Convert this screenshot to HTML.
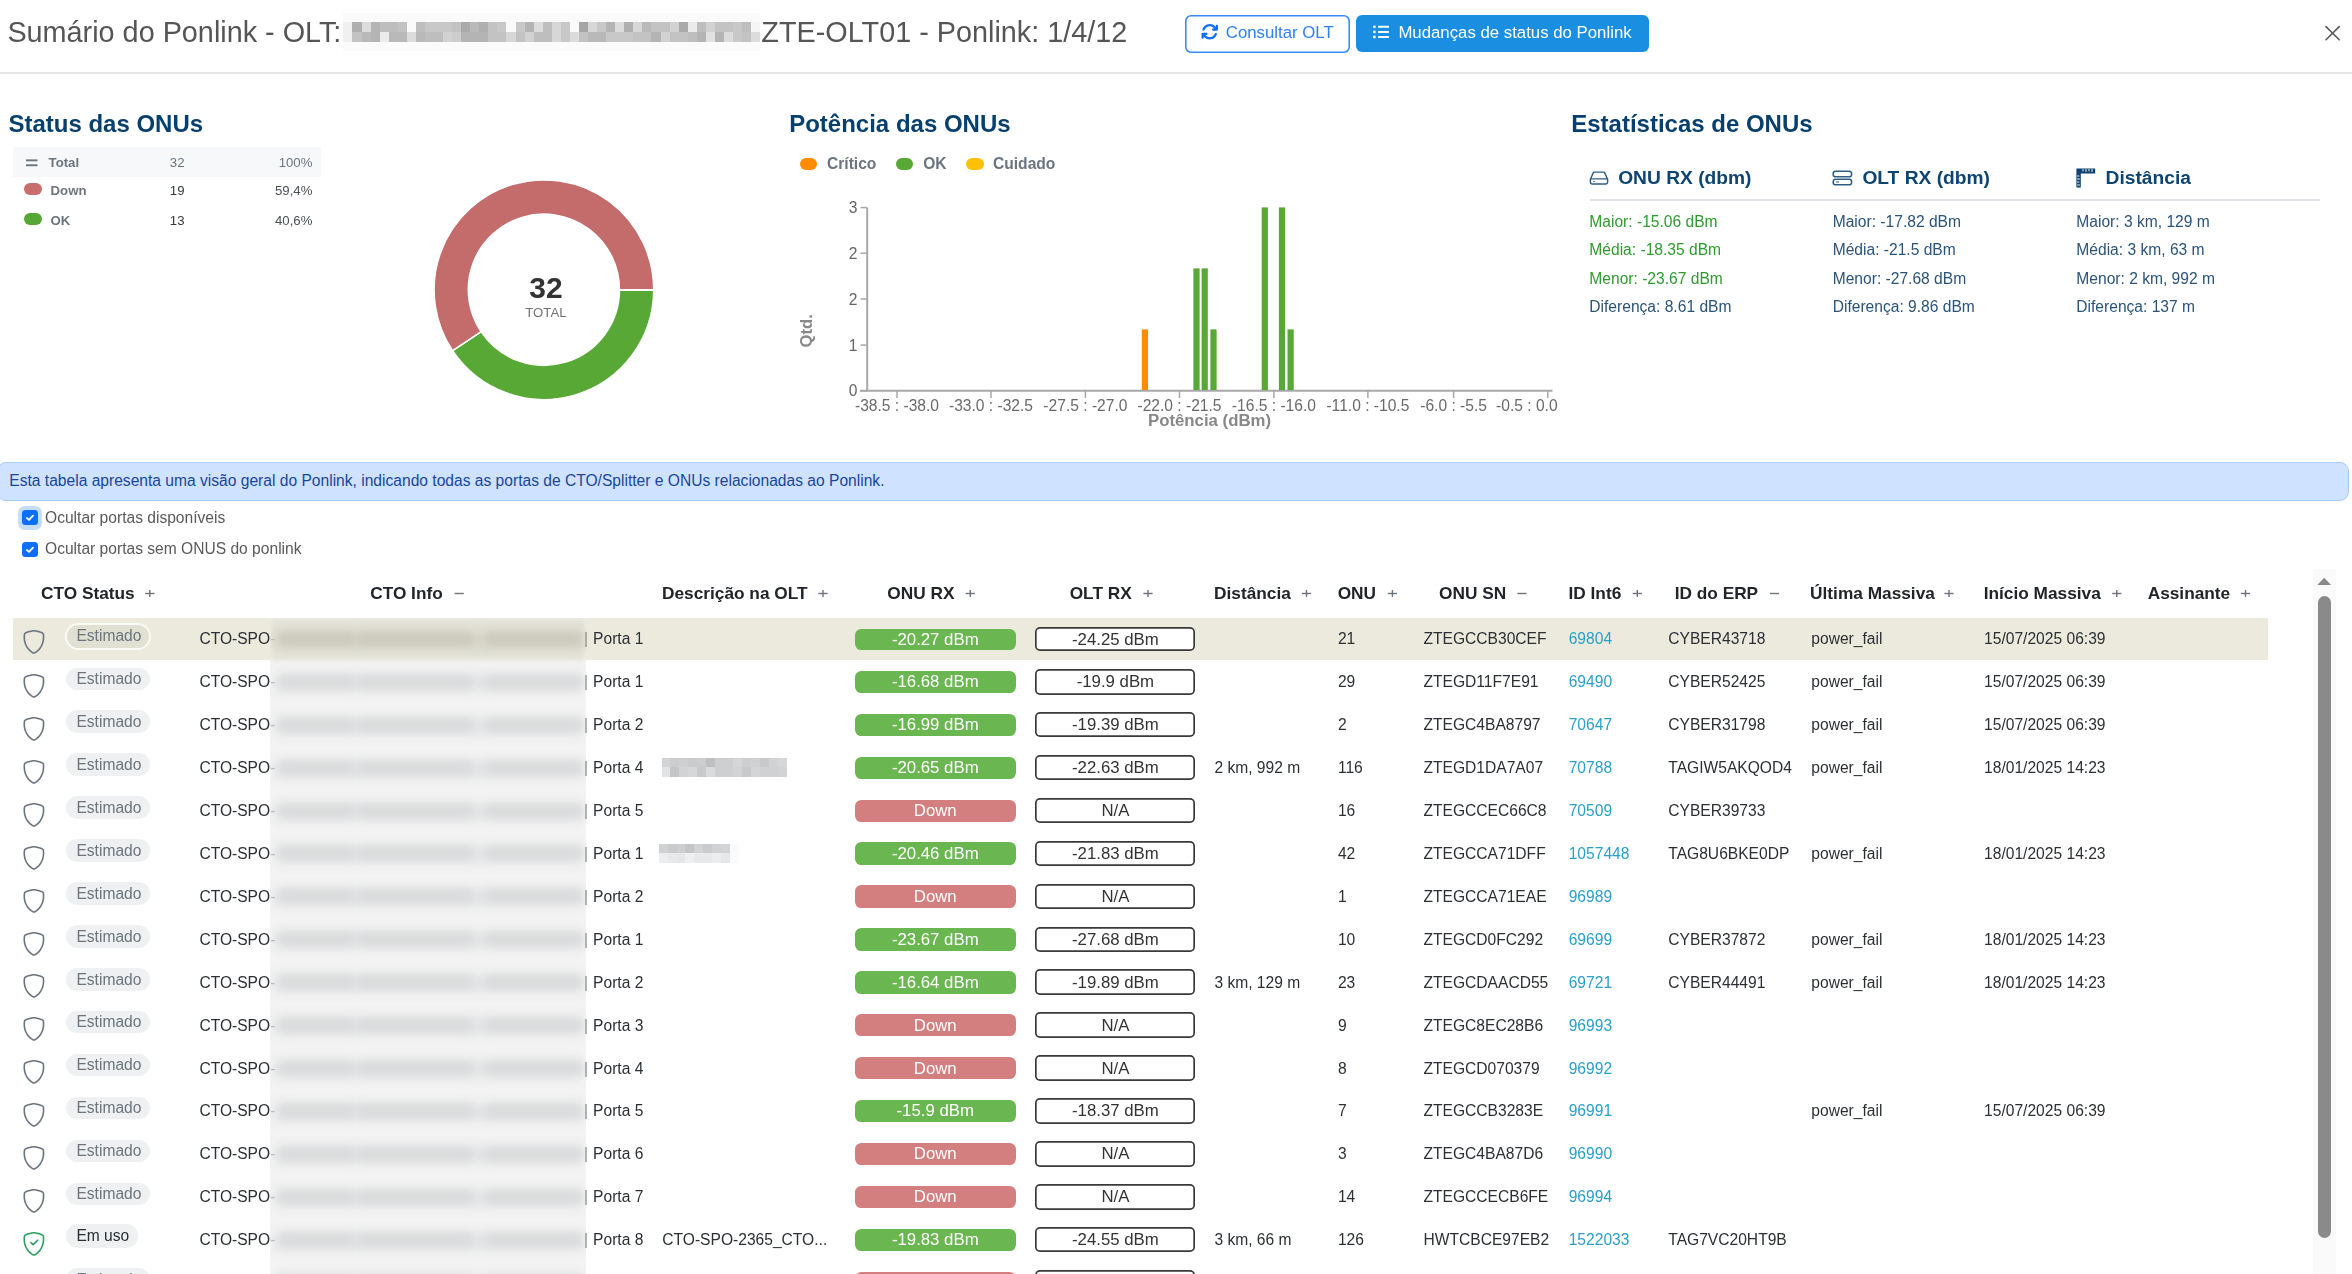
<!DOCTYPE html>
<html lang="pt-BR"><head><meta charset="utf-8"><title>Sumário do Ponlink</title>
<style>
*{box-sizing:border-box;margin:0;padding:0}
html,body{width:2352px;height:1274px;overflow:hidden;background:#fff;font-family:"Liberation Sans", sans-serif}
.t{position:absolute;white-space:nowrap}
.a{position:absolute}
svg{position:absolute;overflow:visible}
</style></head><body>
<div class="a" style="left:0;top:0;width:2352px;height:1274px;will-change:transform">
<div class="t" style="left:7.40px;top:18.00px;font-size:28.8px;line-height:28.8px;color:#555;font-weight:normal;">Sumário do Ponlink - OLT:</div>
<div class="a" style="left:343.40px;top:22.20px;width:9.36px;height:9.90px;background:rgb(240,240,240)"></div>
<div class="a" style="left:343.40px;top:32.00px;width:9.36px;height:9.80px;background:rgb(240,240,240)"></div>
<div class="a" style="left:343.40px;top:12.60px;width:9.36px;height:9.70px;background:#fafafa"></div>
<div class="a" style="left:343.40px;top:41.80px;width:9.36px;height:9.50px;background:#fbfbfb"></div>
<div class="a" style="left:352.46px;top:22.20px;width:9.36px;height:9.90px;background:rgb(175,175,175)"></div>
<div class="a" style="left:352.46px;top:32.00px;width:9.36px;height:9.80px;background:rgb(195,195,195)"></div>
<div class="a" style="left:352.46px;top:12.60px;width:9.36px;height:9.70px;background:#fafafa"></div>
<div class="a" style="left:352.46px;top:41.80px;width:9.36px;height:9.50px;background:#fbfbfb"></div>
<div class="a" style="left:361.52px;top:22.20px;width:9.36px;height:9.90px;background:rgb(220,220,220)"></div>
<div class="a" style="left:361.52px;top:32.00px;width:9.36px;height:9.80px;background:rgb(185,185,185)"></div>
<div class="a" style="left:361.52px;top:12.60px;width:9.36px;height:9.70px;background:#fafafa"></div>
<div class="a" style="left:361.52px;top:41.80px;width:9.36px;height:9.50px;background:#fbfbfb"></div>
<div class="a" style="left:370.58px;top:22.20px;width:9.36px;height:9.90px;background:rgb(180,180,180)"></div>
<div class="a" style="left:370.58px;top:32.00px;width:9.36px;height:9.80px;background:rgb(180,180,180)"></div>
<div class="a" style="left:370.58px;top:12.60px;width:9.36px;height:9.70px;background:#fafafa"></div>
<div class="a" style="left:370.58px;top:41.80px;width:9.36px;height:9.50px;background:#fbfbfb"></div>
<div class="a" style="left:379.64px;top:22.20px;width:9.36px;height:9.90px;background:rgb(190,190,190)"></div>
<div class="a" style="left:379.64px;top:32.00px;width:9.36px;height:9.80px;background:rgb(235,235,235)"></div>
<div class="a" style="left:379.64px;top:12.60px;width:9.36px;height:9.70px;background:#fafafa"></div>
<div class="a" style="left:379.64px;top:41.80px;width:9.36px;height:9.50px;background:#fbfbfb"></div>
<div class="a" style="left:388.70px;top:22.20px;width:9.36px;height:9.90px;background:rgb(190,190,190)"></div>
<div class="a" style="left:388.70px;top:32.00px;width:9.36px;height:9.80px;background:rgb(185,185,185)"></div>
<div class="a" style="left:388.70px;top:12.60px;width:9.36px;height:9.70px;background:#fafafa"></div>
<div class="a" style="left:388.70px;top:41.80px;width:9.36px;height:9.50px;background:#fbfbfb"></div>
<div class="a" style="left:397.76px;top:22.20px;width:9.36px;height:9.90px;background:rgb(195,195,195)"></div>
<div class="a" style="left:397.76px;top:32.00px;width:9.36px;height:9.80px;background:rgb(185,185,185)"></div>
<div class="a" style="left:397.76px;top:12.60px;width:9.36px;height:9.70px;background:#fafafa"></div>
<div class="a" style="left:397.76px;top:41.80px;width:9.36px;height:9.50px;background:#fbfbfb"></div>
<div class="a" style="left:406.82px;top:22.20px;width:9.36px;height:9.90px;background:rgb(250,250,250)"></div>
<div class="a" style="left:406.82px;top:32.00px;width:9.36px;height:9.80px;background:rgb(220,220,220)"></div>
<div class="a" style="left:406.82px;top:12.60px;width:9.36px;height:9.70px;background:#fafafa"></div>
<div class="a" style="left:406.82px;top:41.80px;width:9.36px;height:9.50px;background:#fbfbfb"></div>
<div class="a" style="left:415.88px;top:22.20px;width:9.36px;height:9.90px;background:rgb(190,190,190)"></div>
<div class="a" style="left:415.88px;top:32.00px;width:9.36px;height:9.80px;background:rgb(185,185,185)"></div>
<div class="a" style="left:415.88px;top:12.60px;width:9.36px;height:9.70px;background:#fafafa"></div>
<div class="a" style="left:415.88px;top:41.80px;width:9.36px;height:9.50px;background:#fbfbfb"></div>
<div class="a" style="left:424.94px;top:22.20px;width:9.36px;height:9.90px;background:rgb(200,200,200)"></div>
<div class="a" style="left:424.94px;top:32.00px;width:9.36px;height:9.80px;background:rgb(190,190,190)"></div>
<div class="a" style="left:424.94px;top:12.60px;width:9.36px;height:9.70px;background:#fafafa"></div>
<div class="a" style="left:424.94px;top:41.80px;width:9.36px;height:9.50px;background:#fbfbfb"></div>
<div class="a" style="left:434.00px;top:22.20px;width:9.36px;height:9.90px;background:rgb(200,200,200)"></div>
<div class="a" style="left:434.00px;top:32.00px;width:9.36px;height:9.80px;background:rgb(190,190,190)"></div>
<div class="a" style="left:434.00px;top:12.60px;width:9.36px;height:9.70px;background:#fafafa"></div>
<div class="a" style="left:434.00px;top:41.80px;width:9.36px;height:9.50px;background:#fbfbfb"></div>
<div class="a" style="left:443.06px;top:22.20px;width:9.36px;height:9.90px;background:rgb(200,200,200)"></div>
<div class="a" style="left:443.06px;top:32.00px;width:9.36px;height:9.80px;background:rgb(210,210,210)"></div>
<div class="a" style="left:443.06px;top:12.60px;width:9.36px;height:9.70px;background:#fafafa"></div>
<div class="a" style="left:443.06px;top:41.80px;width:9.36px;height:9.50px;background:#fbfbfb"></div>
<div class="a" style="left:452.12px;top:22.20px;width:9.36px;height:9.90px;background:rgb(195,195,195)"></div>
<div class="a" style="left:452.12px;top:32.00px;width:9.36px;height:9.80px;background:rgb(205,205,205)"></div>
<div class="a" style="left:452.12px;top:12.60px;width:9.36px;height:9.70px;background:#fafafa"></div>
<div class="a" style="left:452.12px;top:41.80px;width:9.36px;height:9.50px;background:#fbfbfb"></div>
<div class="a" style="left:461.18px;top:22.20px;width:9.36px;height:9.90px;background:rgb(170,170,170)"></div>
<div class="a" style="left:461.18px;top:32.00px;width:9.36px;height:9.80px;background:rgb(180,180,180)"></div>
<div class="a" style="left:461.18px;top:12.60px;width:9.36px;height:9.70px;background:#fafafa"></div>
<div class="a" style="left:461.18px;top:41.80px;width:9.36px;height:9.50px;background:#fbfbfb"></div>
<div class="a" style="left:470.24px;top:22.20px;width:9.36px;height:9.90px;background:rgb(185,185,185)"></div>
<div class="a" style="left:470.24px;top:32.00px;width:9.36px;height:9.80px;background:rgb(180,180,180)"></div>
<div class="a" style="left:470.24px;top:12.60px;width:9.36px;height:9.70px;background:#fafafa"></div>
<div class="a" style="left:470.24px;top:41.80px;width:9.36px;height:9.50px;background:#fbfbfb"></div>
<div class="a" style="left:479.30px;top:22.20px;width:9.36px;height:9.90px;background:rgb(175,175,175)"></div>
<div class="a" style="left:479.30px;top:32.00px;width:9.36px;height:9.80px;background:rgb(180,180,180)"></div>
<div class="a" style="left:479.30px;top:12.60px;width:9.36px;height:9.70px;background:#fafafa"></div>
<div class="a" style="left:479.30px;top:41.80px;width:9.36px;height:9.50px;background:#fbfbfb"></div>
<div class="a" style="left:488.36px;top:22.20px;width:9.36px;height:9.90px;background:rgb(195,195,195)"></div>
<div class="a" style="left:488.36px;top:32.00px;width:9.36px;height:9.80px;background:rgb(195,195,195)"></div>
<div class="a" style="left:488.36px;top:12.60px;width:9.36px;height:9.70px;background:#fafafa"></div>
<div class="a" style="left:488.36px;top:41.80px;width:9.36px;height:9.50px;background:#fbfbfb"></div>
<div class="a" style="left:497.42px;top:22.20px;width:9.36px;height:9.90px;background:rgb(200,200,200)"></div>
<div class="a" style="left:497.42px;top:32.00px;width:9.36px;height:9.80px;background:rgb(195,195,195)"></div>
<div class="a" style="left:497.42px;top:12.60px;width:9.36px;height:9.70px;background:#fafafa"></div>
<div class="a" style="left:497.42px;top:41.80px;width:9.36px;height:9.50px;background:#fbfbfb"></div>
<div class="a" style="left:506.48px;top:22.20px;width:9.36px;height:9.90px;background:rgb(250,250,250)"></div>
<div class="a" style="left:506.48px;top:32.00px;width:9.36px;height:9.80px;background:rgb(215,215,215)"></div>
<div class="a" style="left:506.48px;top:12.60px;width:9.36px;height:9.70px;background:#fafafa"></div>
<div class="a" style="left:506.48px;top:41.80px;width:9.36px;height:9.50px;background:#fbfbfb"></div>
<div class="a" style="left:515.54px;top:22.20px;width:9.36px;height:9.90px;background:rgb(200,200,200)"></div>
<div class="a" style="left:515.54px;top:32.00px;width:9.36px;height:9.80px;background:rgb(195,195,195)"></div>
<div class="a" style="left:515.54px;top:12.60px;width:9.36px;height:9.70px;background:#fafafa"></div>
<div class="a" style="left:515.54px;top:41.80px;width:9.36px;height:9.50px;background:#fbfbfb"></div>
<div class="a" style="left:524.60px;top:22.20px;width:9.36px;height:9.90px;background:rgb(180,180,180)"></div>
<div class="a" style="left:524.60px;top:32.00px;width:9.36px;height:9.80px;background:rgb(210,210,210)"></div>
<div class="a" style="left:524.60px;top:12.60px;width:9.36px;height:9.70px;background:#fafafa"></div>
<div class="a" style="left:524.60px;top:41.80px;width:9.36px;height:9.50px;background:#fbfbfb"></div>
<div class="a" style="left:533.66px;top:22.20px;width:9.36px;height:9.90px;background:rgb(220,220,220)"></div>
<div class="a" style="left:533.66px;top:32.00px;width:9.36px;height:9.80px;background:rgb(190,190,190)"></div>
<div class="a" style="left:533.66px;top:12.60px;width:9.36px;height:9.70px;background:#fafafa"></div>
<div class="a" style="left:533.66px;top:41.80px;width:9.36px;height:9.50px;background:#fbfbfb"></div>
<div class="a" style="left:542.72px;top:22.20px;width:9.36px;height:9.90px;background:rgb(190,190,190)"></div>
<div class="a" style="left:542.72px;top:32.00px;width:9.36px;height:9.80px;background:rgb(190,190,190)"></div>
<div class="a" style="left:542.72px;top:12.60px;width:9.36px;height:9.70px;background:#fafafa"></div>
<div class="a" style="left:542.72px;top:41.80px;width:9.36px;height:9.50px;background:#fbfbfb"></div>
<div class="a" style="left:551.78px;top:22.20px;width:9.36px;height:9.90px;background:rgb(215,215,215)"></div>
<div class="a" style="left:551.78px;top:32.00px;width:9.36px;height:9.80px;background:rgb(215,215,215)"></div>
<div class="a" style="left:551.78px;top:12.60px;width:9.36px;height:9.70px;background:#fafafa"></div>
<div class="a" style="left:551.78px;top:41.80px;width:9.36px;height:9.50px;background:#fbfbfb"></div>
<div class="a" style="left:560.84px;top:22.20px;width:9.36px;height:9.90px;background:rgb(200,200,200)"></div>
<div class="a" style="left:560.84px;top:32.00px;width:9.36px;height:9.80px;background:rgb(200,200,200)"></div>
<div class="a" style="left:560.84px;top:12.60px;width:9.36px;height:9.70px;background:#fafafa"></div>
<div class="a" style="left:560.84px;top:41.80px;width:9.36px;height:9.50px;background:#fbfbfb"></div>
<div class="a" style="left:569.90px;top:22.20px;width:9.36px;height:9.90px;background:rgb(250,250,250)"></div>
<div class="a" style="left:569.90px;top:32.00px;width:9.36px;height:9.80px;background:rgb(220,220,220)"></div>
<div class="a" style="left:569.90px;top:12.60px;width:9.36px;height:9.70px;background:#fafafa"></div>
<div class="a" style="left:569.90px;top:41.80px;width:9.36px;height:9.50px;background:#fbfbfb"></div>
<div class="a" style="left:578.96px;top:22.20px;width:9.36px;height:9.90px;background:rgb(165,165,165)"></div>
<div class="a" style="left:578.96px;top:32.00px;width:9.36px;height:9.80px;background:rgb(195,195,195)"></div>
<div class="a" style="left:578.96px;top:12.60px;width:9.36px;height:9.70px;background:#fafafa"></div>
<div class="a" style="left:578.96px;top:41.80px;width:9.36px;height:9.50px;background:#fbfbfb"></div>
<div class="a" style="left:588.02px;top:22.20px;width:9.36px;height:9.90px;background:rgb(215,215,215)"></div>
<div class="a" style="left:588.02px;top:32.00px;width:9.36px;height:9.80px;background:rgb(185,185,185)"></div>
<div class="a" style="left:588.02px;top:12.60px;width:9.36px;height:9.70px;background:#fafafa"></div>
<div class="a" style="left:588.02px;top:41.80px;width:9.36px;height:9.50px;background:#fbfbfb"></div>
<div class="a" style="left:597.08px;top:22.20px;width:9.36px;height:9.90px;background:rgb(200,200,200)"></div>
<div class="a" style="left:597.08px;top:32.00px;width:9.36px;height:9.80px;background:rgb(185,185,185)"></div>
<div class="a" style="left:597.08px;top:12.60px;width:9.36px;height:9.70px;background:#fafafa"></div>
<div class="a" style="left:597.08px;top:41.80px;width:9.36px;height:9.50px;background:#fbfbfb"></div>
<div class="a" style="left:606.14px;top:22.20px;width:9.36px;height:9.90px;background:rgb(180,180,180)"></div>
<div class="a" style="left:606.14px;top:32.00px;width:9.36px;height:9.80px;background:rgb(200,200,200)"></div>
<div class="a" style="left:606.14px;top:12.60px;width:9.36px;height:9.70px;background:#fafafa"></div>
<div class="a" style="left:606.14px;top:41.80px;width:9.36px;height:9.50px;background:#fbfbfb"></div>
<div class="a" style="left:615.20px;top:22.20px;width:9.36px;height:9.90px;background:rgb(220,220,220)"></div>
<div class="a" style="left:615.20px;top:32.00px;width:9.36px;height:9.80px;background:rgb(200,200,200)"></div>
<div class="a" style="left:615.20px;top:12.60px;width:9.36px;height:9.70px;background:#fafafa"></div>
<div class="a" style="left:615.20px;top:41.80px;width:9.36px;height:9.50px;background:#fbfbfb"></div>
<div class="a" style="left:624.26px;top:22.20px;width:9.36px;height:9.90px;background:rgb(175,175,175)"></div>
<div class="a" style="left:624.26px;top:32.00px;width:9.36px;height:9.80px;background:rgb(200,200,200)"></div>
<div class="a" style="left:624.26px;top:12.60px;width:9.36px;height:9.70px;background:#fafafa"></div>
<div class="a" style="left:624.26px;top:41.80px;width:9.36px;height:9.50px;background:#fbfbfb"></div>
<div class="a" style="left:633.32px;top:22.20px;width:9.36px;height:9.90px;background:rgb(215,215,215)"></div>
<div class="a" style="left:633.32px;top:32.00px;width:9.36px;height:9.80px;background:rgb(195,195,195)"></div>
<div class="a" style="left:633.32px;top:12.60px;width:9.36px;height:9.70px;background:#fafafa"></div>
<div class="a" style="left:633.32px;top:41.80px;width:9.36px;height:9.50px;background:#fbfbfb"></div>
<div class="a" style="left:642.38px;top:22.20px;width:9.36px;height:9.90px;background:rgb(185,185,185)"></div>
<div class="a" style="left:642.38px;top:32.00px;width:9.36px;height:9.80px;background:rgb(195,195,195)"></div>
<div class="a" style="left:642.38px;top:12.60px;width:9.36px;height:9.70px;background:#fafafa"></div>
<div class="a" style="left:642.38px;top:41.80px;width:9.36px;height:9.50px;background:#fbfbfb"></div>
<div class="a" style="left:651.44px;top:22.20px;width:9.36px;height:9.90px;background:rgb(195,195,195)"></div>
<div class="a" style="left:651.44px;top:32.00px;width:9.36px;height:9.80px;background:rgb(180,180,180)"></div>
<div class="a" style="left:651.44px;top:12.60px;width:9.36px;height:9.70px;background:#fafafa"></div>
<div class="a" style="left:651.44px;top:41.80px;width:9.36px;height:9.50px;background:#fbfbfb"></div>
<div class="a" style="left:660.50px;top:22.20px;width:9.36px;height:9.90px;background:rgb(195,195,195)"></div>
<div class="a" style="left:660.50px;top:32.00px;width:9.36px;height:9.80px;background:rgb(210,210,210)"></div>
<div class="a" style="left:660.50px;top:12.60px;width:9.36px;height:9.70px;background:#fafafa"></div>
<div class="a" style="left:660.50px;top:41.80px;width:9.36px;height:9.50px;background:#fbfbfb"></div>
<div class="a" style="left:669.56px;top:22.20px;width:9.36px;height:9.90px;background:rgb(210,210,210)"></div>
<div class="a" style="left:669.56px;top:32.00px;width:9.36px;height:9.80px;background:rgb(195,195,195)"></div>
<div class="a" style="left:669.56px;top:12.60px;width:9.36px;height:9.70px;background:#fafafa"></div>
<div class="a" style="left:669.56px;top:41.80px;width:9.36px;height:9.50px;background:#fbfbfb"></div>
<div class="a" style="left:678.62px;top:22.20px;width:9.36px;height:9.90px;background:rgb(170,170,170)"></div>
<div class="a" style="left:678.62px;top:32.00px;width:9.36px;height:9.80px;background:rgb(195,195,195)"></div>
<div class="a" style="left:678.62px;top:12.60px;width:9.36px;height:9.70px;background:#fafafa"></div>
<div class="a" style="left:678.62px;top:41.80px;width:9.36px;height:9.50px;background:#fbfbfb"></div>
<div class="a" style="left:687.68px;top:22.20px;width:9.36px;height:9.90px;background:rgb(235,235,235)"></div>
<div class="a" style="left:687.68px;top:32.00px;width:9.36px;height:9.80px;background:rgb(190,190,190)"></div>
<div class="a" style="left:687.68px;top:12.60px;width:9.36px;height:9.70px;background:#fafafa"></div>
<div class="a" style="left:687.68px;top:41.80px;width:9.36px;height:9.50px;background:#fbfbfb"></div>
<div class="a" style="left:696.74px;top:22.20px;width:9.36px;height:9.90px;background:rgb(190,190,190)"></div>
<div class="a" style="left:696.74px;top:32.00px;width:9.36px;height:9.80px;background:rgb(180,180,180)"></div>
<div class="a" style="left:696.74px;top:12.60px;width:9.36px;height:9.70px;background:#fafafa"></div>
<div class="a" style="left:696.74px;top:41.80px;width:9.36px;height:9.50px;background:#fbfbfb"></div>
<div class="a" style="left:705.80px;top:22.20px;width:9.36px;height:9.90px;background:rgb(210,210,210)"></div>
<div class="a" style="left:705.80px;top:32.00px;width:9.36px;height:9.80px;background:rgb(225,225,225)"></div>
<div class="a" style="left:705.80px;top:12.60px;width:9.36px;height:9.70px;background:#fafafa"></div>
<div class="a" style="left:705.80px;top:41.80px;width:9.36px;height:9.50px;background:#fbfbfb"></div>
<div class="a" style="left:714.86px;top:22.20px;width:9.36px;height:9.90px;background:rgb(195,195,195)"></div>
<div class="a" style="left:714.86px;top:32.00px;width:9.36px;height:9.80px;background:rgb(180,180,180)"></div>
<div class="a" style="left:714.86px;top:12.60px;width:9.36px;height:9.70px;background:#fafafa"></div>
<div class="a" style="left:714.86px;top:41.80px;width:9.36px;height:9.50px;background:#fbfbfb"></div>
<div class="a" style="left:723.92px;top:22.20px;width:9.36px;height:9.90px;background:rgb(195,195,195)"></div>
<div class="a" style="left:723.92px;top:32.00px;width:9.36px;height:9.80px;background:rgb(220,220,220)"></div>
<div class="a" style="left:723.92px;top:12.60px;width:9.36px;height:9.70px;background:#fafafa"></div>
<div class="a" style="left:723.92px;top:41.80px;width:9.36px;height:9.50px;background:#fbfbfb"></div>
<div class="a" style="left:732.98px;top:22.20px;width:9.36px;height:9.90px;background:rgb(200,200,200)"></div>
<div class="a" style="left:732.98px;top:32.00px;width:9.36px;height:9.80px;background:rgb(200,200,200)"></div>
<div class="a" style="left:732.98px;top:12.60px;width:9.36px;height:9.70px;background:#fafafa"></div>
<div class="a" style="left:732.98px;top:41.80px;width:9.36px;height:9.50px;background:#fbfbfb"></div>
<div class="a" style="left:742.04px;top:22.20px;width:9.36px;height:9.90px;background:rgb(190,190,190)"></div>
<div class="a" style="left:742.04px;top:32.00px;width:9.36px;height:9.80px;background:rgb(195,195,195)"></div>
<div class="a" style="left:742.04px;top:12.60px;width:9.36px;height:9.70px;background:#fafafa"></div>
<div class="a" style="left:742.04px;top:41.80px;width:9.36px;height:9.50px;background:#fbfbfb"></div>
<div class="a" style="left:751.10px;top:22.20px;width:9.36px;height:9.90px;background:rgb(245,245,245)"></div>
<div class="a" style="left:751.10px;top:32.00px;width:9.36px;height:9.80px;background:rgb(220,220,220)"></div>
<div class="a" style="left:751.10px;top:12.60px;width:9.36px;height:9.70px;background:#fafafa"></div>
<div class="a" style="left:751.10px;top:41.80px;width:9.36px;height:9.50px;background:#fbfbfb"></div>
<div class="t" style="left:761.30px;top:18.00px;font-size:28.8px;line-height:28.8px;color:#555;font-weight:normal;">ZTE-OLT01 - Ponlink: 1/4/12</div>
<div class="a" style="left:1185.00px;top:15.00px;width:164.50px;height:37.50px;box-shadow:inset 0 0 0 1.6px #3b8afd;border-radius:6px;background:#fff"></div>
<svg style="left:1200.94px;top:22.9px" width="17.51" height="17.51" viewBox="0 0 512 512"><path fill="#0d6efd" d="M105.1 202.6c7.7-21.8 20.2-42.3 37.8-59.8c62.5-62.5 163.8-62.5 226.3 0L386.3 160H352c-17.7 0-32 14.3-32 32s14.3 32 32 32H463.5c0 0 0 0 0 0h.4c17.7 0 32-14.3 32-32V80c0-17.7-14.3-32-32-32s-32 14.3-32 32v35.2L414.4 97.6c-87.5-87.5-229.3-87.5-316.8 0C73.2 122 55.6 150.7 44.8 181.4c-5.9 16.7 2.9 34.9 19.5 40.8s34.9-2.9 40.8-19.5zM39 289.3c-5 1.5-9.8 4.2-13.7 8.2c-4 4-6.7 8.8-8.1 14c-.3 1.2-.6 2.5-.8 3.8c-.3 1.7-.4 3.4-.4 5.1V432c0 17.7 14.3 32 32 32s32-14.3 32-32V396.9l17.6 17.5 0 0c87.5 87.4 229.3 87.4 316.7 0c24.4-24.4 42.1-53.1 52.900-83.7c5.9-16.7-2.9-34.9-19.5-40.8s-34.9 2.9-40.8 19.5c-7.7 21.8-20.2 42.3-37.8 59.8c-62.5 62.5-163.8 62.5-226.3 0l-.1-.1L125.6 352H160c17.7 0 32-14.3 32-32s-14.3-32-32-32H48.4c-1.6 0-3.2 .1-4.8 .3s-3.1 .5-4.6 1z"/></svg>
<div class="t" style="left:1225.80px;top:25.00px;font-size:16.8px;line-height:16.8px;color:#2d80fd;font-weight:normal;">Consultar OLT</div>
<div class="a" style="left:1356.00px;top:15.30px;width:292.50px;height:37.10px;background:#1a8fe2;border-radius:6px"></div>
<svg style="left:1372px;top:24.5px" width="18" height="15" viewBox="0 0 18 15"><g fill="#fff"><circle cx="2.4" cy="1.8" r="1.4"/><circle cx="2.4" cy="6.9" r="1.4"/><circle cx="2.4" cy="12.0" r="1.4"/><rect x="6.0" y="0.8" width="11" height="2" rx="0.6"/><rect x="6.0" y="5.9" width="11" height="2" rx="0.6"/><rect x="6.0" y="11.0" width="11" height="2" rx="0.6"/></g></svg>
<div class="t" style="left:1398.40px;top:25.00px;font-size:16.8px;line-height:16.8px;color:#fff;font-weight:normal;">Mudanças de status do Ponlink</div>
<svg style="left:2320px;top:20px" width="26" height="26" viewBox="0 0 26 26"><path d="M6.0 6.6 L19.2 19.8 M19.2 6.6 L6.0 19.8" stroke="#5c5c5c" stroke-width="1.6" stroke-linecap="round"/></svg>
<div class="a" style="left:0.00px;top:72.20px;width:2352.00px;height:1.40px;background:#e7e7e7"></div>
<div class="t" style="left:8.40px;top:112.00px;font-size:24px;line-height:24px;color:#073f6e;font-weight:bold;">Status das ONUs</div>
<div class="t" style="left:789.20px;top:112.00px;font-size:24px;line-height:24px;color:#073f6e;font-weight:bold;">Potência das ONUs</div>
<div class="t" style="left:1571.20px;top:112.00px;font-size:24px;line-height:24px;color:#073f6e;font-weight:bold;">Estatísticas de ONUs</div>
<div class="a" style="left:13.30px;top:147.40px;width:308.00px;height:29.50px;background:#f7f8f9"></div>
<svg style="left:25.7px;top:158.5px" width="11.5" height="8" viewBox="0 0 11.5 8"><rect x="0" y="0.4" width="11.5" height="1.9" fill="#6c757d"/><rect x="0" y="5.3" width="11.5" height="1.9" fill="#6c757d"/></svg>
<div class="t" style="left:48.60px;top:156.00px;font-size:13.2px;line-height:13.2px;color:#6c757d;font-weight:bold;">Total</div>
<div class="t" style="left:104.50px;top:156.00px;font-size:13.2px;line-height:13.2px;color:#6c757d;font-weight:normal;width:80px;text-align:right">32</div>
<div class="t" style="left:232.40px;top:156.00px;font-size:13.2px;line-height:13.2px;color:#6c757d;font-weight:normal;width:80px;text-align:right">100%</div>
<div class="a" style="left:24.10px;top:183.40px;width:17.80px;height:11.60px;background:#c86c6c;border-radius:6px"></div>
<div class="t" style="left:50.60px;top:184.00px;font-size:13.2px;line-height:13.2px;color:#6c757d;font-weight:bold;">Down</div>
<div class="t" style="left:104.50px;top:184.00px;font-size:13.2px;line-height:13.2px;color:#343a40;font-weight:normal;width:80px;text-align:right">19</div>
<div class="t" style="left:232.40px;top:184.00px;font-size:13.2px;line-height:13.2px;color:#495057;font-weight:normal;width:80px;text-align:right">59,4%</div>
<div class="a" style="left:24.10px;top:213.30px;width:17.80px;height:11.60px;background:#55a835;border-radius:6px"></div>
<div class="t" style="left:50.60px;top:214.00px;font-size:13.2px;line-height:13.2px;color:#6c757d;font-weight:bold;">OK</div>
<div class="t" style="left:104.50px;top:214.00px;font-size:13.2px;line-height:13.2px;color:#343a40;font-weight:normal;width:80px;text-align:right">13</div>
<div class="t" style="left:232.40px;top:214.00px;font-size:13.2px;line-height:13.2px;color:#495057;font-weight:normal;width:80px;text-align:right">40,6%</div>
<svg style="left:0;top:0" width="2352" height="1274"><path d="M653.70 290.27 A109.8 109.8 0 0 1 452.60 350.70 L481.04 331.70 A75.6 75.6 0 0 0 619.50 290.10Z" fill="#57a835" stroke="#fff" stroke-width="1.5"/><path d="M452.60 350.70 A109.8 109.8 0 1 1 653.70 289.70 L619.50 289.70 A75.6 75.6 0 1 0 481.04 331.70Z" fill="#c46b6b" stroke="#fff" stroke-width="1.5"/></svg>
<div class="t" style="left:485.9px;width:120px;text-align:center;top:273.40px;font-size:30px;line-height:30px;font-weight:bold;color:#333">32</div>
<div class="t" style="left:485.9px;width:120px;text-align:center;top:305.52px;font-size:13.2px;line-height:13.2px;color:#737373">TOTAL</div>
<div class="a" style="left:799.60px;top:158.00px;width:17.80px;height:11.60px;background:#ff8c00;border-radius:6px"></div>
<div class="t" style="left:827.00px;top:156.00px;font-size:15.6px;line-height:15.6px;color:#6c757d;font-weight:bold;">Crítico</div>
<div class="a" style="left:895.60px;top:158.00px;width:17.80px;height:11.60px;background:#57a835;border-radius:6px"></div>
<div class="t" style="left:923.20px;top:156.00px;font-size:15.6px;line-height:15.6px;color:#6c757d;font-weight:bold;">OK</div>
<div class="a" style="left:966.20px;top:158.00px;width:17.80px;height:11.60px;background:#ffc107;border-radius:6px"></div>
<div class="t" style="left:993.00px;top:156.00px;font-size:15.6px;line-height:15.6px;color:#6c757d;font-weight:bold;">Cuidado</div>
<svg style="left:0;top:0" width="2352" height="1274"><line x1="867.2" y1="207.5" x2="867.2" y2="391.5" stroke="#a8a8a8" stroke-width="2"/><line x1="859.9" y1="390.7" x2="1552.5" y2="390.7" stroke="#a8a8a8" stroke-width="2"/><line x1="860.5" y1="390.7" x2="867" y2="390.7" stroke="#a8a8a8" stroke-width="1.5"/><text x="857.5" y="396.2" text-anchor="end" font-size="15.6" fill="#666" font-family='Liberation Sans'>0</text><line x1="860.5" y1="345.1" x2="867" y2="345.1" stroke="#a8a8a8" stroke-width="1.5"/><text x="857.5" y="350.6" text-anchor="end" font-size="15.6" fill="#666" font-family='Liberation Sans'>1</text><line x1="860.5" y1="299.0" x2="867" y2="299.0" stroke="#a8a8a8" stroke-width="1.5"/><text x="857.5" y="304.5" text-anchor="end" font-size="15.6" fill="#666" font-family='Liberation Sans'>2</text><line x1="860.5" y1="253.2" x2="867" y2="253.2" stroke="#a8a8a8" stroke-width="1.5"/><text x="857.5" y="258.7" text-anchor="end" font-size="15.6" fill="#666" font-family='Liberation Sans'>2</text><line x1="860.5" y1="207.6" x2="867" y2="207.6" stroke="#a8a8a8" stroke-width="1.5"/><text x="857.5" y="213.1" text-anchor="end" font-size="15.6" fill="#666" font-family='Liberation Sans'>3</text><line x1="897" y1="391" x2="897" y2="398" stroke="#a8a8a8" stroke-width="1.5"/><text x="897" y="410.6" text-anchor="middle" font-size="15.6" fill="#6a6a6a" font-family='Liberation Sans'>-38.5 : -38.0</text><line x1="991" y1="391" x2="991" y2="398" stroke="#a8a8a8" stroke-width="1.5"/><text x="991" y="410.6" text-anchor="middle" font-size="15.6" fill="#6a6a6a" font-family='Liberation Sans'>-33.0 : -32.5</text><line x1="1085.4" y1="391" x2="1085.4" y2="398" stroke="#a8a8a8" stroke-width="1.5"/><text x="1085.4" y="410.6" text-anchor="middle" font-size="15.6" fill="#6a6a6a" font-family='Liberation Sans'>-27.5 : -27.0</text><line x1="1179.5" y1="391" x2="1179.5" y2="398" stroke="#a8a8a8" stroke-width="1.5"/><text x="1179.5" y="410.6" text-anchor="middle" font-size="15.6" fill="#6a6a6a" font-family='Liberation Sans'>-22.0 : -21.5</text><line x1="1273.9" y1="391" x2="1273.9" y2="398" stroke="#a8a8a8" stroke-width="1.5"/><text x="1273.9" y="410.6" text-anchor="middle" font-size="15.6" fill="#6a6a6a" font-family='Liberation Sans'>-16.5 : -16.0</text><line x1="1367.9" y1="391" x2="1367.9" y2="398" stroke="#a8a8a8" stroke-width="1.5"/><text x="1367.9" y="410.6" text-anchor="middle" font-size="15.6" fill="#6a6a6a" font-family='Liberation Sans'>-11.0 : -10.5</text><line x1="1453.6" y1="391" x2="1453.6" y2="398" stroke="#a8a8a8" stroke-width="1.5"/><text x="1453.6" y="410.6" text-anchor="middle" font-size="15.6" fill="#6a6a6a" font-family='Liberation Sans'>-6.0 : -5.5</text><line x1="1547.8" y1="391" x2="1547.8" y2="398" stroke="#a8a8a8" stroke-width="1.5"/><text x="1557.6" y="410.6" text-anchor="end" font-size="15.6" fill="#6a6a6a" font-family='Liberation Sans'>-0.5 : 0.0</text><rect x="1141.8" y="329.4" width="6.2" height="60.6" fill="#ff8c00"/><rect x="1193.4" y="268.4" width="6.2" height="121.6" fill="#57a835"/><rect x="1201.6" y="268.4" width="6.2" height="121.6" fill="#57a835"/><rect x="1210.4" y="329.4" width="6.2" height="60.6" fill="#57a835"/><rect x="1261.7" y="207.4" width="6.2" height="182.6" fill="#57a835"/><rect x="1278.9" y="207.4" width="6.2" height="182.6" fill="#57a835"/><rect x="1287.5" y="329.4" width="6.2" height="60.6" fill="#57a835"/><text x="1209.5" y="425.5" text-anchor="middle" font-size="16.8" font-weight="bold" fill="#888" font-family='Liberation Sans'>Potência (dBm)</text><text transform="translate(812.3 330.8) rotate(-90)" text-anchor="middle" font-size="16.8" font-weight="bold" fill="#888" font-family='Liberation Sans'>Qtd.</text></svg>
<div class="t" style="left:1618.20px;top:168.00px;font-size:19.2px;line-height:19.2px;color:#0d4471;font-weight:bold;">ONU RX (dbm)</div>
<div class="t" style="left:1862.40px;top:168.00px;font-size:19.2px;line-height:19.2px;color:#0d4471;font-weight:bold;">OLT RX (dbm)</div>
<div class="t" style="left:2105.60px;top:168.00px;font-size:19.2px;line-height:19.2px;color:#0d4471;font-weight:bold;">Distância</div>
<svg style="left:1589px;top:170.6px" width="20" height="14.4" viewBox="0 0 20 16" preserveAspectRatio="none"><path d="M4.2 2.2 Q4.6 1.2 5.6 1.2 H14.4 Q15.4 1.2 15.8 2.2 L18.6 9.2 V12.6 Q18.6 14.4 16.8 14.4 H3.2 Q1.4 14.4 1.4 12.6 V9.2 Z M1.6 8.8 H18.4" fill="none" stroke="#2e5d86" stroke-width="1.5"/><circle cx="5" cy="11.6" r="0.8" fill="#2e5d86"/></svg>
<svg style="left:1832px;top:170px" width="21" height="17" viewBox="0 0 21 17"><rect x="1.2" y="1.2" width="18.4" height="5.6" rx="2.4" fill="none" stroke="#2e5d86" stroke-width="1.5"/><rect x="1.2" y="9.2" width="18.4" height="5.6" rx="2.4" fill="none" stroke="#2e5d86" stroke-width="1.5"/><line x1="4" y1="12" x2="7" y2="12" stroke="#2e5d86" stroke-width="1"/></svg>
<svg style="left:2076px;top:168px" width="20" height="20" viewBox="0 0 20 20"><path d="M0.4 0.5 H19.2 V5.4 H4.8 V19.6 H0.4 Z" fill="#0d4471"/><g stroke="#fff" stroke-width="0.9"><line x1="7" y1="1" x2="7" y2="3.4"/><line x1="10" y1="1" x2="10" y2="4"/><line x1="13" y1="1" x2="13" y2="3.4"/><line x1="16" y1="1" x2="16" y2="4"/><line x1="1" y1="8" x2="3.4" y2="8"/><line x1="1" y1="11" x2="4" y2="11"/><line x1="1" y1="14" x2="3.4" y2="14"/><line x1="1" y1="17" x2="4" y2="17"/></g></svg>
<div class="a" style="left:1589.60px;top:199.40px;width:730.50px;height:1.30px;background:#dfe3e8"></div>
<div class="t" style="left:1589.30px;top:214.00px;font-size:15.6px;line-height:15.6px;color:#2f9a2f;font-weight:normal;">Maior: -15.06 dBm</div>
<div class="t" style="left:1589.30px;top:242.00px;font-size:15.6px;line-height:15.6px;color:#2f9a2f;font-weight:normal;">Média: -18.35 dBm</div>
<div class="t" style="left:1589.30px;top:271.00px;font-size:15.6px;line-height:15.6px;color:#2f9a2f;font-weight:normal;">Menor: -23.67 dBm</div>
<div class="t" style="left:1589.30px;top:299.00px;font-size:15.6px;line-height:15.6px;color:#2b5479;font-weight:normal;">Diferença: 8.61 dBm</div>
<div class="t" style="left:1832.70px;top:214.00px;font-size:15.6px;line-height:15.6px;color:#2b5479;font-weight:normal;">Maior: -17.82 dBm</div>
<div class="t" style="left:1832.70px;top:242.00px;font-size:15.6px;line-height:15.6px;color:#2b5479;font-weight:normal;">Média: -21.5 dBm</div>
<div class="t" style="left:1832.70px;top:271.00px;font-size:15.6px;line-height:15.6px;color:#2b5479;font-weight:normal;">Menor: -27.68 dBm</div>
<div class="t" style="left:1832.70px;top:299.00px;font-size:15.6px;line-height:15.6px;color:#2b5479;font-weight:normal;">Diferença: 9.86 dBm</div>
<div class="t" style="left:2076.30px;top:214.00px;font-size:15.6px;line-height:15.6px;color:#2b5479;font-weight:normal;">Maior: 3 km, 129 m</div>
<div class="t" style="left:2076.30px;top:242.00px;font-size:15.6px;line-height:15.6px;color:#2b5479;font-weight:normal;">Média: 3 km, 63 m</div>
<div class="t" style="left:2076.30px;top:271.00px;font-size:15.6px;line-height:15.6px;color:#2b5479;font-weight:normal;">Menor: 2 km, 992 m</div>
<div class="t" style="left:2076.30px;top:299.00px;font-size:15.6px;line-height:15.6px;color:#2b5479;font-weight:normal;">Diferença: 137 m</div>
<div class="a" style="left:18.00px;top:505.80px;width:23.70px;height:23.90px;background:#c5dcfe;border-radius:7px"></div>
<div class="a" style="left:22.30px;top:510.20px;width:15.30px;height:14.80px;background:#0d6efd;border-radius:3.5px"></div>
<svg style="left:22.3px;top:510.2px" width="15.3" height="14.8" viewBox="0 0 15.3 14.8"><path d="M4.9 8.0 L7.0 9.9 L11.0 5.6" fill="none" stroke="#fff" stroke-width="1.8" stroke-linecap="round" stroke-linejoin="round"/></svg>
<div class="a" style="left:22.30px;top:541.90px;width:15.30px;height:14.80px;background:#0d6efd;border-radius:3.5px"></div>
<svg style="left:22.3px;top:541.9px" width="15.3" height="14.8" viewBox="0 0 15.3 14.8"><path d="M4.9 8.0 L7.0 9.9 L11.0 5.6" fill="none" stroke="#fff" stroke-width="1.8" stroke-linecap="round" stroke-linejoin="round"/></svg>
<div class="t" style="left:45.00px;top:510.00px;font-size:15.6px;line-height:15.6px;color:#5a5a5a;font-weight:normal;">Ocultar portas disponíveis</div>
<div class="t" style="left:45.00px;top:541.00px;font-size:15.6px;line-height:15.6px;color:#5a5a5a;font-weight:normal;">Ocultar portas sem ONUS do ponlink</div>
<svg style="left:0;top:0" width="2352" height="1274"><line x1="145.20000000000002" y1="593.5" x2="154.4" y2="593.5" stroke="#6c757d" stroke-width="1.4"/><line x1="149.8" y1="589.9" x2="149.8" y2="597.1" stroke="#6c757d" stroke-width="1.4"/><line x1="454.59999999999997" y1="593.5" x2="463.8" y2="593.5" stroke="#6c757d" stroke-width="1.4"/><line x1="818.4" y1="593.5" x2="827.6" y2="593.5" stroke="#6c757d" stroke-width="1.4"/><line x1="823" y1="589.9" x2="823" y2="597.1" stroke="#6c757d" stroke-width="1.4"/><line x1="965.6999999999999" y1="593.5" x2="974.9" y2="593.5" stroke="#6c757d" stroke-width="1.4"/><line x1="970.3" y1="589.9" x2="970.3" y2="597.1" stroke="#6c757d" stroke-width="1.4"/><line x1="1143.4" y1="593.5" x2="1152.6" y2="593.5" stroke="#6c757d" stroke-width="1.4"/><line x1="1148" y1="589.9" x2="1148" y2="597.1" stroke="#6c757d" stroke-width="1.4"/><line x1="1301.9" y1="593.5" x2="1311.1" y2="593.5" stroke="#6c757d" stroke-width="1.4"/><line x1="1306.5" y1="589.9" x2="1306.5" y2="597.1" stroke="#6c757d" stroke-width="1.4"/><line x1="1387.8000000000002" y1="593.5" x2="1397.0" y2="593.5" stroke="#6c757d" stroke-width="1.4"/><line x1="1392.4" y1="589.9" x2="1392.4" y2="597.1" stroke="#6c757d" stroke-width="1.4"/><line x1="1517.4" y1="593.5" x2="1526.6" y2="593.5" stroke="#6c757d" stroke-width="1.4"/><line x1="1632.7" y1="593.5" x2="1641.8999999999999" y2="593.5" stroke="#6c757d" stroke-width="1.4"/><line x1="1637.3" y1="589.9" x2="1637.3" y2="597.1" stroke="#6c757d" stroke-width="1.4"/><line x1="1769.9" y1="593.5" x2="1779.1" y2="593.5" stroke="#6c757d" stroke-width="1.4"/><line x1="1944.4" y1="593.5" x2="1953.6" y2="593.5" stroke="#6c757d" stroke-width="1.4"/><line x1="1949" y1="589.9" x2="1949" y2="597.1" stroke="#6c757d" stroke-width="1.4"/><line x1="2112.2000000000003" y1="593.5" x2="2121.4" y2="593.5" stroke="#6c757d" stroke-width="1.4"/><line x1="2116.8" y1="589.9" x2="2116.8" y2="597.1" stroke="#6c757d" stroke-width="1.4"/><line x1="2240.9" y1="593.5" x2="2250.1" y2="593.5" stroke="#6c757d" stroke-width="1.4"/><line x1="2245.5" y1="589.9" x2="2245.5" y2="597.1" stroke="#6c757d" stroke-width="1.4"/></svg>
<div class="a" style="left:13.40px;top:618.20px;width:2254.40px;height:41.80px;background:#ebeadd"></div>
<div class="a" style="left:269.8px;top:618.2px;width:316.2px;height:655.8px;background:#f3f3f3;overflow:hidden">
<div class="a" style="left:0;top:0;width:316.2px;height:41.8px;background:#e4e3d7;filter:blur(2px)"></div>
<div class="a" style="left:4px;top:12.60px;width:308px;height:18px;background:#d6d5c8;filter:blur(5.5px)"></div>
<div class="a" style="left:10px;top:14.60px;width:74px;height:12px;background:#cac9bc;filter:blur(4.5px)"></div>
<div class="a" style="left:88px;top:14.60px;width:114px;height:12px;background:#cac9bc;filter:blur(4.5px)"></div>
<div class="a" style="left:216px;top:14.60px;width:96px;height:12px;background:#cac9bc;filter:blur(4.5px)"></div>
<div class="a" style="left:4px;top:55.60px;width:308px;height:18px;background:#e3e4e5;filter:blur(5.5px)"></div>
<div class="a" style="left:10px;top:57.60px;width:74px;height:12px;background:#d9dadb;filter:blur(4.5px)"></div>
<div class="a" style="left:88px;top:57.60px;width:114px;height:12px;background:#d9dadb;filter:blur(4.5px)"></div>
<div class="a" style="left:216px;top:57.60px;width:96px;height:12px;background:#d9dadb;filter:blur(4.5px)"></div>
<div class="a" style="left:4px;top:98.52px;width:308px;height:18px;background:#e3e4e5;filter:blur(5.5px)"></div>
<div class="a" style="left:10px;top:100.52px;width:74px;height:12px;background:#d9dadb;filter:blur(4.5px)"></div>
<div class="a" style="left:88px;top:100.52px;width:114px;height:12px;background:#d9dadb;filter:blur(4.5px)"></div>
<div class="a" style="left:216px;top:100.52px;width:96px;height:12px;background:#d9dadb;filter:blur(4.5px)"></div>
<div class="a" style="left:4px;top:141.44px;width:308px;height:18px;background:#e3e4e5;filter:blur(5.5px)"></div>
<div class="a" style="left:10px;top:143.44px;width:74px;height:12px;background:#d9dadb;filter:blur(4.5px)"></div>
<div class="a" style="left:88px;top:143.44px;width:114px;height:12px;background:#d9dadb;filter:blur(4.5px)"></div>
<div class="a" style="left:216px;top:143.44px;width:96px;height:12px;background:#d9dadb;filter:blur(4.5px)"></div>
<div class="a" style="left:4px;top:184.36px;width:308px;height:18px;background:#e3e4e5;filter:blur(5.5px)"></div>
<div class="a" style="left:10px;top:186.36px;width:74px;height:12px;background:#d9dadb;filter:blur(4.5px)"></div>
<div class="a" style="left:88px;top:186.36px;width:114px;height:12px;background:#d9dadb;filter:blur(4.5px)"></div>
<div class="a" style="left:216px;top:186.36px;width:96px;height:12px;background:#d9dadb;filter:blur(4.5px)"></div>
<div class="a" style="left:4px;top:227.28px;width:308px;height:18px;background:#e3e4e5;filter:blur(5.5px)"></div>
<div class="a" style="left:10px;top:229.28px;width:74px;height:12px;background:#d9dadb;filter:blur(4.5px)"></div>
<div class="a" style="left:88px;top:229.28px;width:114px;height:12px;background:#d9dadb;filter:blur(4.5px)"></div>
<div class="a" style="left:216px;top:229.28px;width:96px;height:12px;background:#d9dadb;filter:blur(4.5px)"></div>
<div class="a" style="left:4px;top:270.20px;width:308px;height:18px;background:#e3e4e5;filter:blur(5.5px)"></div>
<div class="a" style="left:10px;top:272.20px;width:74px;height:12px;background:#d9dadb;filter:blur(4.5px)"></div>
<div class="a" style="left:88px;top:272.20px;width:114px;height:12px;background:#d9dadb;filter:blur(4.5px)"></div>
<div class="a" style="left:216px;top:272.20px;width:96px;height:12px;background:#d9dadb;filter:blur(4.5px)"></div>
<div class="a" style="left:4px;top:313.12px;width:308px;height:18px;background:#e3e4e5;filter:blur(5.5px)"></div>
<div class="a" style="left:10px;top:315.12px;width:74px;height:12px;background:#d9dadb;filter:blur(4.5px)"></div>
<div class="a" style="left:88px;top:315.12px;width:114px;height:12px;background:#d9dadb;filter:blur(4.5px)"></div>
<div class="a" style="left:216px;top:315.12px;width:96px;height:12px;background:#d9dadb;filter:blur(4.5px)"></div>
<div class="a" style="left:4px;top:356.04px;width:308px;height:18px;background:#e3e4e5;filter:blur(5.5px)"></div>
<div class="a" style="left:10px;top:358.04px;width:74px;height:12px;background:#d9dadb;filter:blur(4.5px)"></div>
<div class="a" style="left:88px;top:358.04px;width:114px;height:12px;background:#d9dadb;filter:blur(4.5px)"></div>
<div class="a" style="left:216px;top:358.04px;width:96px;height:12px;background:#d9dadb;filter:blur(4.5px)"></div>
<div class="a" style="left:4px;top:398.96px;width:308px;height:18px;background:#e3e4e5;filter:blur(5.5px)"></div>
<div class="a" style="left:10px;top:400.96px;width:74px;height:12px;background:#d9dadb;filter:blur(4.5px)"></div>
<div class="a" style="left:88px;top:400.96px;width:114px;height:12px;background:#d9dadb;filter:blur(4.5px)"></div>
<div class="a" style="left:216px;top:400.96px;width:96px;height:12px;background:#d9dadb;filter:blur(4.5px)"></div>
<div class="a" style="left:4px;top:441.88px;width:308px;height:18px;background:#e3e4e5;filter:blur(5.5px)"></div>
<div class="a" style="left:10px;top:443.88px;width:74px;height:12px;background:#d9dadb;filter:blur(4.5px)"></div>
<div class="a" style="left:88px;top:443.88px;width:114px;height:12px;background:#d9dadb;filter:blur(4.5px)"></div>
<div class="a" style="left:216px;top:443.88px;width:96px;height:12px;background:#d9dadb;filter:blur(4.5px)"></div>
<div class="a" style="left:4px;top:484.80px;width:308px;height:18px;background:#e3e4e5;filter:blur(5.5px)"></div>
<div class="a" style="left:10px;top:486.80px;width:74px;height:12px;background:#d9dadb;filter:blur(4.5px)"></div>
<div class="a" style="left:88px;top:486.80px;width:114px;height:12px;background:#d9dadb;filter:blur(4.5px)"></div>
<div class="a" style="left:216px;top:486.80px;width:96px;height:12px;background:#d9dadb;filter:blur(4.5px)"></div>
<div class="a" style="left:4px;top:527.72px;width:308px;height:18px;background:#e3e4e5;filter:blur(5.5px)"></div>
<div class="a" style="left:10px;top:529.72px;width:74px;height:12px;background:#d9dadb;filter:blur(4.5px)"></div>
<div class="a" style="left:88px;top:529.72px;width:114px;height:12px;background:#d9dadb;filter:blur(4.5px)"></div>
<div class="a" style="left:216px;top:529.72px;width:96px;height:12px;background:#d9dadb;filter:blur(4.5px)"></div>
<div class="a" style="left:4px;top:570.64px;width:308px;height:18px;background:#e3e4e5;filter:blur(5.5px)"></div>
<div class="a" style="left:10px;top:572.64px;width:74px;height:12px;background:#d9dadb;filter:blur(4.5px)"></div>
<div class="a" style="left:88px;top:572.64px;width:114px;height:12px;background:#d9dadb;filter:blur(4.5px)"></div>
<div class="a" style="left:216px;top:572.64px;width:96px;height:12px;background:#d9dadb;filter:blur(4.5px)"></div>
<div class="a" style="left:4px;top:613.56px;width:308px;height:18px;background:#e3e4e5;filter:blur(5.5px)"></div>
<div class="a" style="left:10px;top:615.56px;width:74px;height:12px;background:#d9dadb;filter:blur(4.5px)"></div>
<div class="a" style="left:88px;top:615.56px;width:114px;height:12px;background:#d9dadb;filter:blur(4.5px)"></div>
<div class="a" style="left:216px;top:615.56px;width:96px;height:12px;background:#d9dadb;filter:blur(4.5px)"></div>
<div class="a" style="left:4px;top:656.48px;width:308px;height:18px;background:#e3e4e5;filter:blur(5.5px)"></div>
<div class="a" style="left:10px;top:658.48px;width:74px;height:12px;background:#d9dadb;filter:blur(4.5px)"></div>
<div class="a" style="left:88px;top:658.48px;width:114px;height:12px;background:#d9dadb;filter:blur(4.5px)"></div>
<div class="a" style="left:216px;top:658.48px;width:96px;height:12px;background:#d9dadb;filter:blur(4.5px)"></div>
</div>
<svg style="left:22.0px;top:630.20px" width="23.84" height="23.84" viewBox="0 0 16 16"><path d="M5.338 1.59a61 61 0 0 0-2.837.856.48.48 0 0 0-.328.39c-.554 4.157.726 7.19 2.253 9.188a10.7 10.7 0 0 0 2.287 2.233c.346.244.652.42.893.533q.18.085.293.118a1 1 0 0 0 .101.025 1 1 0 0 0 .1-.025q.114-.034.294-.118c.24-.113.547-.29.893-.533a10.7 10.7 0 0 0 2.287-2.233c1.527-1.997 2.807-5.031 2.253-9.188a.48.48 0 0 0-.328-.39c-.651-.213-1.75-.56-2.837-.855C9.552 1.29 8.531 1.067 8 1.067c-.53 0-1.552.223-2.662.524zM5.072.56C6.157.265 7.31 0 8 0s1.843.265 2.928.56c1.11.3 2.229.655 2.887.87a1.54 1.54 0 0 1 1.044 1.262c.596 4.477-.787 7.795-2.465 9.99a11.8 11.8 0 0 1-2.517 2.453 7 7 0 0 1-1.048.625c-.28.132-.581.24-.829.24s-.548-.108-.829-.24a7 7 0 0 1-1.048-.625 11.8 11.8 0 0 1-2.517-2.453C1.928 10.487.545 7.169 1.141 2.692A1.54 1.54 0 0 1 2.185 1.43 63 63 0 0 1 5.072.56" fill="#6c757d" stroke="#6c757d" stroke-width="0.04"/></svg>
<div class="a" style="left:64.70px;top:623.00px;width:86.10px;height:26.70px;background:#e0e0d3;border:2px solid #fafaf5;border-radius:14px"></div>
<div class="t" style="left:76.40px;top:628.00px;font-size:15.6px;line-height:15.6px;color:#6c757d;font-weight:normal;">Estimado</div>
<div class="t" style="left:199.40px;top:631.00px;font-size:15.6px;line-height:15.6px;color:#2c3034;font-weight:normal;">CTO-SPO</div>
<div class="t" style="left:199.40px;top:631.00px;font-size:15.6px;line-height:15.6px;color:#2c3034;font-weight:normal;"><span style="visibility:hidden">CTO-SPO</span><span style="color:#bbb">-</span></div>
<div class="t" style="left:583.90px;top:631.00px;font-size:15.6px;line-height:15.6px;color:#8c8c8c;font-weight:normal;">|</div>
<div class="t" style="left:593.10px;top:631.00px;font-size:15.6px;line-height:15.6px;color:#2c3034;font-weight:normal;">Porta 1</div>
<div class="a" style="left:855.00px;top:628.80px;width:160.50px;height:20.80px;background:#6ab650;border-radius:6.4px"></div>
<div class="t" style="left:855.00px;top:632.00px;font-size:16.8px;line-height:16.8px;color:#fff;font-weight:normal;width:160.5px;text-align:center">-20.27 dBm</div>
<div class="a" style="left:1035.30px;top:627.40px;width:160.20px;height:23.30px;background:#fff;box-shadow:inset 0 0 0 1.7px #3a3a3a;border-radius:5px"></div>
<div class="t" style="left:1035.30px;top:632.00px;font-size:16.8px;line-height:16.8px;color:#333;font-weight:normal;width:160.2px;text-align:center">-24.25 dBm</div>
<div class="t" style="left:1337.90px;top:631.00px;font-size:15.6px;line-height:15.6px;color:#2c3034;font-weight:normal;">21</div>
<div class="t" style="left:1423.50px;top:631.00px;font-size:15.6px;line-height:15.6px;color:#2c3034;font-weight:normal;">ZTEGCCB30CEF</div>
<div class="t" style="left:1568.70px;top:631.00px;font-size:15.6px;line-height:15.6px;color:#2a9fc9;font-weight:normal;">69804</div>
<div class="t" style="left:1668.30px;top:631.00px;font-size:15.6px;line-height:15.6px;color:#2c3034;font-weight:normal;">CYBER43718</div>
<div class="t" style="left:1811.30px;top:631.00px;font-size:15.6px;line-height:15.6px;color:#2c3034;font-weight:normal;">power_fail</div>
<div class="t" style="left:1984.10px;top:631.00px;font-size:15.6px;line-height:15.6px;color:#2c3034;font-weight:normal;">15/07/2025 06:39</div>
<svg style="left:22.0px;top:674.00px" width="23.84" height="23.84" viewBox="0 0 16 16"><path d="M5.338 1.59a61 61 0 0 0-2.837.856.48.48 0 0 0-.328.39c-.554 4.157.726 7.19 2.253 9.188a10.7 10.7 0 0 0 2.287 2.233c.346.244.652.42.893.533q.18.085.293.118a1 1 0 0 0 .101.025 1 1 0 0 0 .1-.025q.114-.034.294-.118c.24-.113.547-.29.893-.533a10.7 10.7 0 0 0 2.287-2.233c1.527-1.997 2.807-5.031 2.253-9.188a.48.48 0 0 0-.328-.39c-.651-.213-1.75-.56-2.837-.855C9.552 1.29 8.531 1.067 8 1.067c-.53 0-1.552.223-2.662.524zM5.072.56C6.157.265 7.31 0 8 0s1.843.265 2.928.56c1.11.3 2.229.655 2.887.87a1.54 1.54 0 0 1 1.044 1.262c.596 4.477-.787 7.795-2.465 9.99a11.8 11.8 0 0 1-2.517 2.453 7 7 0 0 1-1.048.625c-.28.132-.581.24-.829.24s-.548-.108-.829-.24a7 7 0 0 1-1.048-.625 11.8 11.8 0 0 1-2.517-2.453C1.928 10.487.545 7.169 1.141 2.692A1.54 1.54 0 0 1 2.185 1.43 63 63 0 0 1 5.072.56" fill="#6c757d" stroke="#6c757d" stroke-width="0.04"/></svg>
<div class="a" style="left:65.70px;top:667.50px;width:84.20px;height:22.60px;background:#eef0f2;border-radius:11.3px"></div>
<div class="t" style="left:76.40px;top:671.00px;font-size:15.6px;line-height:15.6px;color:#6c757d;font-weight:normal;">Estimado</div>
<div class="t" style="left:199.40px;top:674.00px;font-size:15.6px;line-height:15.6px;color:#2c3034;font-weight:normal;">CTO-SPO</div>
<div class="t" style="left:199.40px;top:674.00px;font-size:15.6px;line-height:15.6px;color:#2c3034;font-weight:normal;"><span style="visibility:hidden">CTO-SPO</span><span style="color:#bbb">-</span></div>
<div class="t" style="left:583.90px;top:674.00px;font-size:15.6px;line-height:15.6px;color:#8c8c8c;font-weight:normal;">|</div>
<div class="t" style="left:593.10px;top:674.00px;font-size:15.6px;line-height:15.6px;color:#2c3034;font-weight:normal;">Porta 1</div>
<div class="a" style="left:855.00px;top:670.80px;width:160.50px;height:22.30px;background:#6ab650;border-radius:6.4px"></div>
<div class="t" style="left:855.00px;top:674.00px;font-size:16.8px;line-height:16.8px;color:#fff;font-weight:normal;width:160.5px;text-align:center">-16.68 dBm</div>
<div class="a" style="left:1035.30px;top:669.00px;width:160.20px;height:25.50px;background:#fff;box-shadow:inset 0 0 0 1.7px #3a3a3a;border-radius:5px"></div>
<div class="t" style="left:1035.30px;top:674.00px;font-size:16.8px;line-height:16.8px;color:#333;font-weight:normal;width:160.2px;text-align:center">-19.9 dBm</div>
<div class="t" style="left:1337.90px;top:674.00px;font-size:15.6px;line-height:15.6px;color:#2c3034;font-weight:normal;">29</div>
<div class="t" style="left:1423.50px;top:674.00px;font-size:15.6px;line-height:15.6px;color:#2c3034;font-weight:normal;">ZTEGD11F7E91</div>
<div class="t" style="left:1568.70px;top:674.00px;font-size:15.6px;line-height:15.6px;color:#2a9fc9;font-weight:normal;">69490</div>
<div class="t" style="left:1668.30px;top:674.00px;font-size:15.6px;line-height:15.6px;color:#2c3034;font-weight:normal;">CYBER52425</div>
<div class="t" style="left:1811.30px;top:674.00px;font-size:15.6px;line-height:15.6px;color:#2c3034;font-weight:normal;">power_fail</div>
<div class="t" style="left:1984.10px;top:674.00px;font-size:15.6px;line-height:15.6px;color:#2c3034;font-weight:normal;">15/07/2025 06:39</div>
<svg style="left:22.0px;top:716.92px" width="23.84" height="23.84" viewBox="0 0 16 16"><path d="M5.338 1.59a61 61 0 0 0-2.837.856.48.48 0 0 0-.328.39c-.554 4.157.726 7.19 2.253 9.188a10.7 10.7 0 0 0 2.287 2.233c.346.244.652.42.893.533q.18.085.293.118a1 1 0 0 0 .101.025 1 1 0 0 0 .1-.025q.114-.034.294-.118c.24-.113.547-.29.893-.533a10.7 10.7 0 0 0 2.287-2.233c1.527-1.997 2.807-5.031 2.253-9.188a.48.48 0 0 0-.328-.39c-.651-.213-1.75-.56-2.837-.855C9.552 1.29 8.531 1.067 8 1.067c-.53 0-1.552.223-2.662.524zM5.072.56C6.157.265 7.31 0 8 0s1.843.265 2.928.56c1.11.3 2.229.655 2.887.87a1.54 1.54 0 0 1 1.044 1.262c.596 4.477-.787 7.795-2.465 9.99a11.8 11.8 0 0 1-2.517 2.453 7 7 0 0 1-1.048.625c-.28.132-.581.24-.829.24s-.548-.108-.829-.24a7 7 0 0 1-1.048-.625 11.8 11.8 0 0 1-2.517-2.453C1.928 10.487.545 7.169 1.141 2.692A1.54 1.54 0 0 1 2.185 1.43 63 63 0 0 1 5.072.56" fill="#6c757d" stroke="#6c757d" stroke-width="0.04"/></svg>
<div class="a" style="left:65.70px;top:710.42px;width:84.20px;height:22.60px;background:#eef0f2;border-radius:11.3px"></div>
<div class="t" style="left:76.40px;top:714.00px;font-size:15.6px;line-height:15.6px;color:#6c757d;font-weight:normal;">Estimado</div>
<div class="t" style="left:199.40px;top:717.00px;font-size:15.6px;line-height:15.6px;color:#2c3034;font-weight:normal;">CTO-SPO</div>
<div class="t" style="left:199.40px;top:717.00px;font-size:15.6px;line-height:15.6px;color:#2c3034;font-weight:normal;"><span style="visibility:hidden">CTO-SPO</span><span style="color:#bbb">-</span></div>
<div class="t" style="left:583.90px;top:717.00px;font-size:15.6px;line-height:15.6px;color:#8c8c8c;font-weight:normal;">|</div>
<div class="t" style="left:593.10px;top:717.00px;font-size:15.6px;line-height:15.6px;color:#2c3034;font-weight:normal;">Porta 2</div>
<div class="a" style="left:855.00px;top:713.72px;width:160.50px;height:22.30px;background:#6ab650;border-radius:6.4px"></div>
<div class="t" style="left:855.00px;top:717.00px;font-size:16.8px;line-height:16.8px;color:#fff;font-weight:normal;width:160.5px;text-align:center">-16.99 dBm</div>
<div class="a" style="left:1035.30px;top:711.92px;width:160.20px;height:25.50px;background:#fff;box-shadow:inset 0 0 0 1.7px #3a3a3a;border-radius:5px"></div>
<div class="t" style="left:1035.30px;top:717.00px;font-size:16.8px;line-height:16.8px;color:#333;font-weight:normal;width:160.2px;text-align:center">-19.39 dBm</div>
<div class="t" style="left:1337.90px;top:717.00px;font-size:15.6px;line-height:15.6px;color:#2c3034;font-weight:normal;">2</div>
<div class="t" style="left:1423.50px;top:717.00px;font-size:15.6px;line-height:15.6px;color:#2c3034;font-weight:normal;">ZTEGC4BA8797</div>
<div class="t" style="left:1568.70px;top:717.00px;font-size:15.6px;line-height:15.6px;color:#2a9fc9;font-weight:normal;">70647</div>
<div class="t" style="left:1668.30px;top:717.00px;font-size:15.6px;line-height:15.6px;color:#2c3034;font-weight:normal;">CYBER31798</div>
<div class="t" style="left:1811.30px;top:717.00px;font-size:15.6px;line-height:15.6px;color:#2c3034;font-weight:normal;">power_fail</div>
<div class="t" style="left:1984.10px;top:717.00px;font-size:15.6px;line-height:15.6px;color:#2c3034;font-weight:normal;">15/07/2025 06:39</div>
<svg style="left:22.0px;top:759.84px" width="23.84" height="23.84" viewBox="0 0 16 16"><path d="M5.338 1.59a61 61 0 0 0-2.837.856.48.48 0 0 0-.328.39c-.554 4.157.726 7.19 2.253 9.188a10.7 10.7 0 0 0 2.287 2.233c.346.244.652.42.893.533q.18.085.293.118a1 1 0 0 0 .101.025 1 1 0 0 0 .1-.025q.114-.034.294-.118c.24-.113.547-.29.893-.533a10.7 10.7 0 0 0 2.287-2.233c1.527-1.997 2.807-5.031 2.253-9.188a.48.48 0 0 0-.328-.39c-.651-.213-1.75-.56-2.837-.855C9.552 1.29 8.531 1.067 8 1.067c-.53 0-1.552.223-2.662.524zM5.072.56C6.157.265 7.31 0 8 0s1.843.265 2.928.56c1.11.3 2.229.655 2.887.87a1.54 1.54 0 0 1 1.044 1.262c.596 4.477-.787 7.795-2.465 9.99a11.8 11.8 0 0 1-2.517 2.453 7 7 0 0 1-1.048.625c-.28.132-.581.24-.829.24s-.548-.108-.829-.24a7 7 0 0 1-1.048-.625 11.8 11.8 0 0 1-2.517-2.453C1.928 10.487.545 7.169 1.141 2.692A1.54 1.54 0 0 1 2.185 1.43 63 63 0 0 1 5.072.56" fill="#6c757d" stroke="#6c757d" stroke-width="0.04"/></svg>
<div class="a" style="left:65.70px;top:753.34px;width:84.20px;height:22.60px;background:#eef0f2;border-radius:11.3px"></div>
<div class="t" style="left:76.40px;top:757.00px;font-size:15.6px;line-height:15.6px;color:#6c757d;font-weight:normal;">Estimado</div>
<div class="t" style="left:199.40px;top:760.00px;font-size:15.6px;line-height:15.6px;color:#2c3034;font-weight:normal;">CTO-SPO</div>
<div class="t" style="left:199.40px;top:760.00px;font-size:15.6px;line-height:15.6px;color:#2c3034;font-weight:normal;"><span style="visibility:hidden">CTO-SPO</span><span style="color:#bbb">-</span></div>
<div class="t" style="left:583.90px;top:760.00px;font-size:15.6px;line-height:15.6px;color:#8c8c8c;font-weight:normal;">|</div>
<div class="t" style="left:593.10px;top:760.00px;font-size:15.6px;line-height:15.6px;color:#2c3034;font-weight:normal;">Porta 4</div>
<div class="a" style="left:855.00px;top:756.64px;width:160.50px;height:22.30px;background:#6ab650;border-radius:6.4px"></div>
<div class="t" style="left:855.00px;top:760.00px;font-size:16.8px;line-height:16.8px;color:#fff;font-weight:normal;width:160.5px;text-align:center">-20.65 dBm</div>
<div class="a" style="left:1035.30px;top:754.84px;width:160.20px;height:25.50px;background:#fff;box-shadow:inset 0 0 0 1.7px #3a3a3a;border-radius:5px"></div>
<div class="t" style="left:1035.30px;top:760.00px;font-size:16.8px;line-height:16.8px;color:#333;font-weight:normal;width:160.2px;text-align:center">-22.63 dBm</div>
<div class="t" style="left:1214.40px;top:760.00px;font-size:15.6px;line-height:15.6px;color:#2c3034;font-weight:normal;">2 km, 992 m</div>
<div class="t" style="left:1337.90px;top:760.00px;font-size:15.6px;line-height:15.6px;color:#2c3034;font-weight:normal;">116</div>
<div class="t" style="left:1423.50px;top:760.00px;font-size:15.6px;line-height:15.6px;color:#2c3034;font-weight:normal;">ZTEGD1DA7A07</div>
<div class="t" style="left:1568.70px;top:760.00px;font-size:15.6px;line-height:15.6px;color:#2a9fc9;font-weight:normal;">70788</div>
<div class="t" style="left:1668.30px;top:760.00px;font-size:15.6px;line-height:15.6px;color:#2c3034;font-weight:normal;">TAGIW5AKQOD4</div>
<div class="t" style="left:1811.30px;top:760.00px;font-size:15.6px;line-height:15.6px;color:#2c3034;font-weight:normal;">power_fail</div>
<div class="t" style="left:1984.10px;top:760.00px;font-size:15.6px;line-height:15.6px;color:#2c3034;font-weight:normal;">18/01/2025 14:23</div>
<svg style="left:22.0px;top:802.76px" width="23.84" height="23.84" viewBox="0 0 16 16"><path d="M5.338 1.59a61 61 0 0 0-2.837.856.48.48 0 0 0-.328.39c-.554 4.157.726 7.19 2.253 9.188a10.7 10.7 0 0 0 2.287 2.233c.346.244.652.42.893.533q.18.085.293.118a1 1 0 0 0 .101.025 1 1 0 0 0 .1-.025q.114-.034.294-.118c.24-.113.547-.29.893-.533a10.7 10.7 0 0 0 2.287-2.233c1.527-1.997 2.807-5.031 2.253-9.188a.48.48 0 0 0-.328-.39c-.651-.213-1.75-.56-2.837-.855C9.552 1.29 8.531 1.067 8 1.067c-.53 0-1.552.223-2.662.524zM5.072.56C6.157.265 7.31 0 8 0s1.843.265 2.928.56c1.11.3 2.229.655 2.887.87a1.54 1.54 0 0 1 1.044 1.262c.596 4.477-.787 7.795-2.465 9.99a11.8 11.8 0 0 1-2.517 2.453 7 7 0 0 1-1.048.625c-.28.132-.581.24-.829.24s-.548-.108-.829-.24a7 7 0 0 1-1.048-.625 11.8 11.8 0 0 1-2.517-2.453C1.928 10.487.545 7.169 1.141 2.692A1.54 1.54 0 0 1 2.185 1.43 63 63 0 0 1 5.072.56" fill="#6c757d" stroke="#6c757d" stroke-width="0.04"/></svg>
<div class="a" style="left:65.70px;top:796.26px;width:84.20px;height:22.60px;background:#eef0f2;border-radius:11.3px"></div>
<div class="t" style="left:76.40px;top:800.00px;font-size:15.6px;line-height:15.6px;color:#6c757d;font-weight:normal;">Estimado</div>
<div class="t" style="left:199.40px;top:803.00px;font-size:15.6px;line-height:15.6px;color:#2c3034;font-weight:normal;">CTO-SPO</div>
<div class="t" style="left:199.40px;top:803.00px;font-size:15.6px;line-height:15.6px;color:#2c3034;font-weight:normal;"><span style="visibility:hidden">CTO-SPO</span><span style="color:#bbb">-</span></div>
<div class="t" style="left:583.90px;top:803.00px;font-size:15.6px;line-height:15.6px;color:#8c8c8c;font-weight:normal;">|</div>
<div class="t" style="left:593.10px;top:803.00px;font-size:15.6px;line-height:15.6px;color:#2c3034;font-weight:normal;">Porta 5</div>
<div class="a" style="left:855.00px;top:799.56px;width:160.50px;height:22.30px;background:#d47f7f;border-radius:6.4px"></div>
<div class="t" style="left:855.00px;top:803.00px;font-size:16.8px;line-height:16.8px;color:#fff;font-weight:normal;width:160.5px;text-align:center">Down</div>
<div class="a" style="left:1035.30px;top:797.76px;width:160.20px;height:25.50px;background:#fff;box-shadow:inset 0 0 0 1.7px #3a3a3a;border-radius:5px"></div>
<div class="t" style="left:1035.30px;top:803.00px;font-size:16.8px;line-height:16.8px;color:#333;font-weight:normal;width:160.2px;text-align:center">N/A</div>
<div class="t" style="left:1337.90px;top:803.00px;font-size:15.6px;line-height:15.6px;color:#2c3034;font-weight:normal;">16</div>
<div class="t" style="left:1423.50px;top:803.00px;font-size:15.6px;line-height:15.6px;color:#2c3034;font-weight:normal;">ZTEGCCEC66C8</div>
<div class="t" style="left:1568.70px;top:803.00px;font-size:15.6px;line-height:15.6px;color:#2a9fc9;font-weight:normal;">70509</div>
<div class="t" style="left:1668.30px;top:803.00px;font-size:15.6px;line-height:15.6px;color:#2c3034;font-weight:normal;">CYBER39733</div>
<svg style="left:22.0px;top:845.68px" width="23.84" height="23.84" viewBox="0 0 16 16"><path d="M5.338 1.59a61 61 0 0 0-2.837.856.48.48 0 0 0-.328.39c-.554 4.157.726 7.19 2.253 9.188a10.7 10.7 0 0 0 2.287 2.233c.346.244.652.42.893.533q.18.085.293.118a1 1 0 0 0 .101.025 1 1 0 0 0 .1-.025q.114-.034.294-.118c.24-.113.547-.29.893-.533a10.7 10.7 0 0 0 2.287-2.233c1.527-1.997 2.807-5.031 2.253-9.188a.48.48 0 0 0-.328-.39c-.651-.213-1.75-.56-2.837-.855C9.552 1.29 8.531 1.067 8 1.067c-.53 0-1.552.223-2.662.524zM5.072.56C6.157.265 7.31 0 8 0s1.843.265 2.928.56c1.11.3 2.229.655 2.887.87a1.54 1.54 0 0 1 1.044 1.262c.596 4.477-.787 7.795-2.465 9.99a11.8 11.8 0 0 1-2.517 2.453 7 7 0 0 1-1.048.625c-.28.132-.581.24-.829.24s-.548-.108-.829-.24a7 7 0 0 1-1.048-.625 11.8 11.8 0 0 1-2.517-2.453C1.928 10.487.545 7.169 1.141 2.692A1.54 1.54 0 0 1 2.185 1.43 63 63 0 0 1 5.072.56" fill="#6c757d" stroke="#6c757d" stroke-width="0.04"/></svg>
<div class="a" style="left:65.70px;top:839.18px;width:84.20px;height:22.60px;background:#eef0f2;border-radius:11.3px"></div>
<div class="t" style="left:76.40px;top:843.00px;font-size:15.6px;line-height:15.6px;color:#6c757d;font-weight:normal;">Estimado</div>
<div class="t" style="left:199.40px;top:846.00px;font-size:15.6px;line-height:15.6px;color:#2c3034;font-weight:normal;">CTO-SPO</div>
<div class="t" style="left:199.40px;top:846.00px;font-size:15.6px;line-height:15.6px;color:#2c3034;font-weight:normal;"><span style="visibility:hidden">CTO-SPO</span><span style="color:#bbb">-</span></div>
<div class="t" style="left:583.90px;top:846.00px;font-size:15.6px;line-height:15.6px;color:#8c8c8c;font-weight:normal;">|</div>
<div class="t" style="left:593.10px;top:846.00px;font-size:15.6px;line-height:15.6px;color:#2c3034;font-weight:normal;">Porta 1</div>
<div class="a" style="left:855.00px;top:842.48px;width:160.50px;height:22.30px;background:#6ab650;border-radius:6.4px"></div>
<div class="t" style="left:855.00px;top:846.00px;font-size:16.8px;line-height:16.8px;color:#fff;font-weight:normal;width:160.5px;text-align:center">-20.46 dBm</div>
<div class="a" style="left:1035.30px;top:840.68px;width:160.20px;height:25.50px;background:#fff;box-shadow:inset 0 0 0 1.7px #3a3a3a;border-radius:5px"></div>
<div class="t" style="left:1035.30px;top:846.00px;font-size:16.8px;line-height:16.8px;color:#333;font-weight:normal;width:160.2px;text-align:center">-21.83 dBm</div>
<div class="t" style="left:1337.90px;top:846.00px;font-size:15.6px;line-height:15.6px;color:#2c3034;font-weight:normal;">42</div>
<div class="t" style="left:1423.50px;top:846.00px;font-size:15.6px;line-height:15.6px;color:#2c3034;font-weight:normal;">ZTEGCCA71DFF</div>
<div class="t" style="left:1568.70px;top:846.00px;font-size:15.6px;line-height:15.6px;color:#2a9fc9;font-weight:normal;">1057448</div>
<div class="t" style="left:1668.30px;top:846.00px;font-size:15.6px;line-height:15.6px;color:#2c3034;font-weight:normal;">TAG8U6BKE0DP</div>
<div class="t" style="left:1811.30px;top:846.00px;font-size:15.6px;line-height:15.6px;color:#2c3034;font-weight:normal;">power_fail</div>
<div class="t" style="left:1984.10px;top:846.00px;font-size:15.6px;line-height:15.6px;color:#2c3034;font-weight:normal;">18/01/2025 14:23</div>
<svg style="left:22.0px;top:888.60px" width="23.84" height="23.84" viewBox="0 0 16 16"><path d="M5.338 1.59a61 61 0 0 0-2.837.856.48.48 0 0 0-.328.39c-.554 4.157.726 7.19 2.253 9.188a10.7 10.7 0 0 0 2.287 2.233c.346.244.652.42.893.533q.18.085.293.118a1 1 0 0 0 .101.025 1 1 0 0 0 .1-.025q.114-.034.294-.118c.24-.113.547-.29.893-.533a10.7 10.7 0 0 0 2.287-2.233c1.527-1.997 2.807-5.031 2.253-9.188a.48.48 0 0 0-.328-.39c-.651-.213-1.75-.56-2.837-.855C9.552 1.29 8.531 1.067 8 1.067c-.53 0-1.552.223-2.662.524zM5.072.56C6.157.265 7.31 0 8 0s1.843.265 2.928.56c1.11.3 2.229.655 2.887.87a1.54 1.54 0 0 1 1.044 1.262c.596 4.477-.787 7.795-2.465 9.99a11.8 11.8 0 0 1-2.517 2.453 7 7 0 0 1-1.048.625c-.28.132-.581.24-.829.24s-.548-.108-.829-.24a7 7 0 0 1-1.048-.625 11.8 11.8 0 0 1-2.517-2.453C1.928 10.487.545 7.169 1.141 2.692A1.54 1.54 0 0 1 2.185 1.43 63 63 0 0 1 5.072.56" fill="#6c757d" stroke="#6c757d" stroke-width="0.04"/></svg>
<div class="a" style="left:65.70px;top:882.10px;width:84.20px;height:22.60px;background:#eef0f2;border-radius:11.3px"></div>
<div class="t" style="left:76.40px;top:886.00px;font-size:15.6px;line-height:15.6px;color:#6c757d;font-weight:normal;">Estimado</div>
<div class="t" style="left:199.40px;top:889.00px;font-size:15.6px;line-height:15.6px;color:#2c3034;font-weight:normal;">CTO-SPO</div>
<div class="t" style="left:199.40px;top:889.00px;font-size:15.6px;line-height:15.6px;color:#2c3034;font-weight:normal;"><span style="visibility:hidden">CTO-SPO</span><span style="color:#bbb">-</span></div>
<div class="t" style="left:583.90px;top:889.00px;font-size:15.6px;line-height:15.6px;color:#8c8c8c;font-weight:normal;">|</div>
<div class="t" style="left:593.10px;top:889.00px;font-size:15.6px;line-height:15.6px;color:#2c3034;font-weight:normal;">Porta 2</div>
<div class="a" style="left:855.00px;top:885.40px;width:160.50px;height:22.30px;background:#d47f7f;border-radius:6.4px"></div>
<div class="t" style="left:855.00px;top:889.00px;font-size:16.8px;line-height:16.8px;color:#fff;font-weight:normal;width:160.5px;text-align:center">Down</div>
<div class="a" style="left:1035.30px;top:883.60px;width:160.20px;height:25.50px;background:#fff;box-shadow:inset 0 0 0 1.7px #3a3a3a;border-radius:5px"></div>
<div class="t" style="left:1035.30px;top:889.00px;font-size:16.8px;line-height:16.8px;color:#333;font-weight:normal;width:160.2px;text-align:center">N/A</div>
<div class="t" style="left:1337.90px;top:889.00px;font-size:15.6px;line-height:15.6px;color:#2c3034;font-weight:normal;">1</div>
<div class="t" style="left:1423.50px;top:889.00px;font-size:15.6px;line-height:15.6px;color:#2c3034;font-weight:normal;">ZTEGCCA71EAE</div>
<div class="t" style="left:1568.70px;top:889.00px;font-size:15.6px;line-height:15.6px;color:#2a9fc9;font-weight:normal;">96989</div>
<svg style="left:22.0px;top:931.52px" width="23.84" height="23.84" viewBox="0 0 16 16"><path d="M5.338 1.59a61 61 0 0 0-2.837.856.48.48 0 0 0-.328.39c-.554 4.157.726 7.19 2.253 9.188a10.7 10.7 0 0 0 2.287 2.233c.346.244.652.42.893.533q.18.085.293.118a1 1 0 0 0 .101.025 1 1 0 0 0 .1-.025q.114-.034.294-.118c.24-.113.547-.29.893-.533a10.7 10.7 0 0 0 2.287-2.233c1.527-1.997 2.807-5.031 2.253-9.188a.48.48 0 0 0-.328-.39c-.651-.213-1.75-.56-2.837-.855C9.552 1.29 8.531 1.067 8 1.067c-.53 0-1.552.223-2.662.524zM5.072.56C6.157.265 7.31 0 8 0s1.843.265 2.928.56c1.11.3 2.229.655 2.887.87a1.54 1.54 0 0 1 1.044 1.262c.596 4.477-.787 7.795-2.465 9.99a11.8 11.8 0 0 1-2.517 2.453 7 7 0 0 1-1.048.625c-.28.132-.581.24-.829.24s-.548-.108-.829-.24a7 7 0 0 1-1.048-.625 11.8 11.8 0 0 1-2.517-2.453C1.928 10.487.545 7.169 1.141 2.692A1.54 1.54 0 0 1 2.185 1.43 63 63 0 0 1 5.072.56" fill="#6c757d" stroke="#6c757d" stroke-width="0.04"/></svg>
<div class="a" style="left:65.70px;top:925.02px;width:84.20px;height:22.60px;background:#eef0f2;border-radius:11.3px"></div>
<div class="t" style="left:76.40px;top:929.00px;font-size:15.6px;line-height:15.6px;color:#6c757d;font-weight:normal;">Estimado</div>
<div class="t" style="left:199.40px;top:932.00px;font-size:15.6px;line-height:15.6px;color:#2c3034;font-weight:normal;">CTO-SPO</div>
<div class="t" style="left:199.40px;top:932.00px;font-size:15.6px;line-height:15.6px;color:#2c3034;font-weight:normal;"><span style="visibility:hidden">CTO-SPO</span><span style="color:#bbb">-</span></div>
<div class="t" style="left:583.90px;top:932.00px;font-size:15.6px;line-height:15.6px;color:#8c8c8c;font-weight:normal;">|</div>
<div class="t" style="left:593.10px;top:932.00px;font-size:15.6px;line-height:15.6px;color:#2c3034;font-weight:normal;">Porta 1</div>
<div class="a" style="left:855.00px;top:928.32px;width:160.50px;height:22.30px;background:#6ab650;border-radius:6.4px"></div>
<div class="t" style="left:855.00px;top:932.00px;font-size:16.8px;line-height:16.8px;color:#fff;font-weight:normal;width:160.5px;text-align:center">-23.67 dBm</div>
<div class="a" style="left:1035.30px;top:926.52px;width:160.20px;height:25.50px;background:#fff;box-shadow:inset 0 0 0 1.7px #3a3a3a;border-radius:5px"></div>
<div class="t" style="left:1035.30px;top:932.00px;font-size:16.8px;line-height:16.8px;color:#333;font-weight:normal;width:160.2px;text-align:center">-27.68 dBm</div>
<div class="t" style="left:1337.90px;top:932.00px;font-size:15.6px;line-height:15.6px;color:#2c3034;font-weight:normal;">10</div>
<div class="t" style="left:1423.50px;top:932.00px;font-size:15.6px;line-height:15.6px;color:#2c3034;font-weight:normal;">ZTEGCD0FC292</div>
<div class="t" style="left:1568.70px;top:932.00px;font-size:15.6px;line-height:15.6px;color:#2a9fc9;font-weight:normal;">69699</div>
<div class="t" style="left:1668.30px;top:932.00px;font-size:15.6px;line-height:15.6px;color:#2c3034;font-weight:normal;">CYBER37872</div>
<div class="t" style="left:1811.30px;top:932.00px;font-size:15.6px;line-height:15.6px;color:#2c3034;font-weight:normal;">power_fail</div>
<div class="t" style="left:1984.10px;top:932.00px;font-size:15.6px;line-height:15.6px;color:#2c3034;font-weight:normal;">18/01/2025 14:23</div>
<svg style="left:22.0px;top:974.44px" width="23.84" height="23.84" viewBox="0 0 16 16"><path d="M5.338 1.59a61 61 0 0 0-2.837.856.48.48 0 0 0-.328.39c-.554 4.157.726 7.19 2.253 9.188a10.7 10.7 0 0 0 2.287 2.233c.346.244.652.42.893.533q.18.085.293.118a1 1 0 0 0 .101.025 1 1 0 0 0 .1-.025q.114-.034.294-.118c.24-.113.547-.29.893-.533a10.7 10.7 0 0 0 2.287-2.233c1.527-1.997 2.807-5.031 2.253-9.188a.48.48 0 0 0-.328-.39c-.651-.213-1.75-.56-2.837-.855C9.552 1.29 8.531 1.067 8 1.067c-.53 0-1.552.223-2.662.524zM5.072.56C6.157.265 7.31 0 8 0s1.843.265 2.928.56c1.11.3 2.229.655 2.887.87a1.54 1.54 0 0 1 1.044 1.262c.596 4.477-.787 7.795-2.465 9.99a11.8 11.8 0 0 1-2.517 2.453 7 7 0 0 1-1.048.625c-.28.132-.581.24-.829.24s-.548-.108-.829-.24a7 7 0 0 1-1.048-.625 11.8 11.8 0 0 1-2.517-2.453C1.928 10.487.545 7.169 1.141 2.692A1.54 1.54 0 0 1 2.185 1.43 63 63 0 0 1 5.072.56" fill="#6c757d" stroke="#6c757d" stroke-width="0.04"/></svg>
<div class="a" style="left:65.70px;top:967.94px;width:84.20px;height:22.60px;background:#eef0f2;border-radius:11.3px"></div>
<div class="t" style="left:76.40px;top:972.00px;font-size:15.6px;line-height:15.6px;color:#6c757d;font-weight:normal;">Estimado</div>
<div class="t" style="left:199.40px;top:975.00px;font-size:15.6px;line-height:15.6px;color:#2c3034;font-weight:normal;">CTO-SPO</div>
<div class="t" style="left:199.40px;top:975.00px;font-size:15.6px;line-height:15.6px;color:#2c3034;font-weight:normal;"><span style="visibility:hidden">CTO-SPO</span><span style="color:#bbb">-</span></div>
<div class="t" style="left:583.90px;top:975.00px;font-size:15.6px;line-height:15.6px;color:#8c8c8c;font-weight:normal;">|</div>
<div class="t" style="left:593.10px;top:975.00px;font-size:15.6px;line-height:15.6px;color:#2c3034;font-weight:normal;">Porta 2</div>
<div class="a" style="left:855.00px;top:971.24px;width:160.50px;height:22.30px;background:#6ab650;border-radius:6.4px"></div>
<div class="t" style="left:855.00px;top:975.00px;font-size:16.8px;line-height:16.8px;color:#fff;font-weight:normal;width:160.5px;text-align:center">-16.64 dBm</div>
<div class="a" style="left:1035.30px;top:969.44px;width:160.20px;height:25.50px;background:#fff;box-shadow:inset 0 0 0 1.7px #3a3a3a;border-radius:5px"></div>
<div class="t" style="left:1035.30px;top:975.00px;font-size:16.8px;line-height:16.8px;color:#333;font-weight:normal;width:160.2px;text-align:center">-19.89 dBm</div>
<div class="t" style="left:1214.40px;top:975.00px;font-size:15.6px;line-height:15.6px;color:#2c3034;font-weight:normal;">3 km, 129 m</div>
<div class="t" style="left:1337.90px;top:975.00px;font-size:15.6px;line-height:15.6px;color:#2c3034;font-weight:normal;">23</div>
<div class="t" style="left:1423.50px;top:975.00px;font-size:15.6px;line-height:15.6px;color:#2c3034;font-weight:normal;">ZTEGCDAACD55</div>
<div class="t" style="left:1568.70px;top:975.00px;font-size:15.6px;line-height:15.6px;color:#2a9fc9;font-weight:normal;">69721</div>
<div class="t" style="left:1668.30px;top:975.00px;font-size:15.6px;line-height:15.6px;color:#2c3034;font-weight:normal;">CYBER44491</div>
<div class="t" style="left:1811.30px;top:975.00px;font-size:15.6px;line-height:15.6px;color:#2c3034;font-weight:normal;">power_fail</div>
<div class="t" style="left:1984.10px;top:975.00px;font-size:15.6px;line-height:15.6px;color:#2c3034;font-weight:normal;">18/01/2025 14:23</div>
<svg style="left:22.0px;top:1017.36px" width="23.84" height="23.84" viewBox="0 0 16 16"><path d="M5.338 1.59a61 61 0 0 0-2.837.856.48.48 0 0 0-.328.39c-.554 4.157.726 7.19 2.253 9.188a10.7 10.7 0 0 0 2.287 2.233c.346.244.652.42.893.533q.18.085.293.118a1 1 0 0 0 .101.025 1 1 0 0 0 .1-.025q.114-.034.294-.118c.24-.113.547-.29.893-.533a10.7 10.7 0 0 0 2.287-2.233c1.527-1.997 2.807-5.031 2.253-9.188a.48.48 0 0 0-.328-.39c-.651-.213-1.75-.56-2.837-.855C9.552 1.29 8.531 1.067 8 1.067c-.53 0-1.552.223-2.662.524zM5.072.56C6.157.265 7.31 0 8 0s1.843.265 2.928.56c1.11.3 2.229.655 2.887.87a1.54 1.54 0 0 1 1.044 1.262c.596 4.477-.787 7.795-2.465 9.99a11.8 11.8 0 0 1-2.517 2.453 7 7 0 0 1-1.048.625c-.28.132-.581.24-.829.24s-.548-.108-.829-.24a7 7 0 0 1-1.048-.625 11.8 11.8 0 0 1-2.517-2.453C1.928 10.487.545 7.169 1.141 2.692A1.54 1.54 0 0 1 2.185 1.43 63 63 0 0 1 5.072.56" fill="#6c757d" stroke="#6c757d" stroke-width="0.04"/></svg>
<div class="a" style="left:65.70px;top:1010.86px;width:84.20px;height:22.60px;background:#eef0f2;border-radius:11.3px"></div>
<div class="t" style="left:76.40px;top:1014.00px;font-size:15.6px;line-height:15.6px;color:#6c757d;font-weight:normal;">Estimado</div>
<div class="t" style="left:199.40px;top:1018.00px;font-size:15.6px;line-height:15.6px;color:#2c3034;font-weight:normal;">CTO-SPO</div>
<div class="t" style="left:199.40px;top:1018.00px;font-size:15.6px;line-height:15.6px;color:#2c3034;font-weight:normal;"><span style="visibility:hidden">CTO-SPO</span><span style="color:#bbb">-</span></div>
<div class="t" style="left:583.90px;top:1018.00px;font-size:15.6px;line-height:15.6px;color:#8c8c8c;font-weight:normal;">|</div>
<div class="t" style="left:593.10px;top:1018.00px;font-size:15.6px;line-height:15.6px;color:#2c3034;font-weight:normal;">Porta 3</div>
<div class="a" style="left:855.00px;top:1014.16px;width:160.50px;height:22.30px;background:#d47f7f;border-radius:6.4px"></div>
<div class="t" style="left:855.00px;top:1018.00px;font-size:16.8px;line-height:16.8px;color:#fff;font-weight:normal;width:160.5px;text-align:center">Down</div>
<div class="a" style="left:1035.30px;top:1012.36px;width:160.20px;height:25.50px;background:#fff;box-shadow:inset 0 0 0 1.7px #3a3a3a;border-radius:5px"></div>
<div class="t" style="left:1035.30px;top:1018.00px;font-size:16.8px;line-height:16.8px;color:#333;font-weight:normal;width:160.2px;text-align:center">N/A</div>
<div class="t" style="left:1337.90px;top:1018.00px;font-size:15.6px;line-height:15.6px;color:#2c3034;font-weight:normal;">9</div>
<div class="t" style="left:1423.50px;top:1018.00px;font-size:15.6px;line-height:15.6px;color:#2c3034;font-weight:normal;">ZTEGC8EC28B6</div>
<div class="t" style="left:1568.70px;top:1018.00px;font-size:15.6px;line-height:15.6px;color:#2a9fc9;font-weight:normal;">96993</div>
<svg style="left:22.0px;top:1060.28px" width="23.84" height="23.84" viewBox="0 0 16 16"><path d="M5.338 1.59a61 61 0 0 0-2.837.856.48.48 0 0 0-.328.39c-.554 4.157.726 7.19 2.253 9.188a10.7 10.7 0 0 0 2.287 2.233c.346.244.652.42.893.533q.18.085.293.118a1 1 0 0 0 .101.025 1 1 0 0 0 .1-.025q.114-.034.294-.118c.24-.113.547-.29.893-.533a10.7 10.7 0 0 0 2.287-2.233c1.527-1.997 2.807-5.031 2.253-9.188a.48.48 0 0 0-.328-.39c-.651-.213-1.75-.56-2.837-.855C9.552 1.29 8.531 1.067 8 1.067c-.53 0-1.552.223-2.662.524zM5.072.56C6.157.265 7.31 0 8 0s1.843.265 2.928.56c1.11.3 2.229.655 2.887.87a1.54 1.54 0 0 1 1.044 1.262c.596 4.477-.787 7.795-2.465 9.99a11.8 11.8 0 0 1-2.517 2.453 7 7 0 0 1-1.048.625c-.28.132-.581.24-.829.24s-.548-.108-.829-.24a7 7 0 0 1-1.048-.625 11.8 11.8 0 0 1-2.517-2.453C1.928 10.487.545 7.169 1.141 2.692A1.54 1.54 0 0 1 2.185 1.43 63 63 0 0 1 5.072.56" fill="#6c757d" stroke="#6c757d" stroke-width="0.04"/></svg>
<div class="a" style="left:65.70px;top:1053.78px;width:84.20px;height:22.60px;background:#eef0f2;border-radius:11.3px"></div>
<div class="t" style="left:76.40px;top:1057.00px;font-size:15.6px;line-height:15.6px;color:#6c757d;font-weight:normal;">Estimado</div>
<div class="t" style="left:199.40px;top:1061.00px;font-size:15.6px;line-height:15.6px;color:#2c3034;font-weight:normal;">CTO-SPO</div>
<div class="t" style="left:199.40px;top:1061.00px;font-size:15.6px;line-height:15.6px;color:#2c3034;font-weight:normal;"><span style="visibility:hidden">CTO-SPO</span><span style="color:#bbb">-</span></div>
<div class="t" style="left:583.90px;top:1061.00px;font-size:15.6px;line-height:15.6px;color:#8c8c8c;font-weight:normal;">|</div>
<div class="t" style="left:593.10px;top:1061.00px;font-size:15.6px;line-height:15.6px;color:#2c3034;font-weight:normal;">Porta 4</div>
<div class="a" style="left:855.00px;top:1057.08px;width:160.50px;height:22.30px;background:#d47f7f;border-radius:6.4px"></div>
<div class="t" style="left:855.00px;top:1061.00px;font-size:16.8px;line-height:16.8px;color:#fff;font-weight:normal;width:160.5px;text-align:center">Down</div>
<div class="a" style="left:1035.30px;top:1055.28px;width:160.20px;height:25.50px;background:#fff;box-shadow:inset 0 0 0 1.7px #3a3a3a;border-radius:5px"></div>
<div class="t" style="left:1035.30px;top:1061.00px;font-size:16.8px;line-height:16.8px;color:#333;font-weight:normal;width:160.2px;text-align:center">N/A</div>
<div class="t" style="left:1337.90px;top:1061.00px;font-size:15.6px;line-height:15.6px;color:#2c3034;font-weight:normal;">8</div>
<div class="t" style="left:1423.50px;top:1061.00px;font-size:15.6px;line-height:15.6px;color:#2c3034;font-weight:normal;">ZTEGCD070379</div>
<div class="t" style="left:1568.70px;top:1061.00px;font-size:15.6px;line-height:15.6px;color:#2a9fc9;font-weight:normal;">96992</div>
<svg style="left:22.0px;top:1103.20px" width="23.84" height="23.84" viewBox="0 0 16 16"><path d="M5.338 1.59a61 61 0 0 0-2.837.856.48.48 0 0 0-.328.39c-.554 4.157.726 7.19 2.253 9.188a10.7 10.7 0 0 0 2.287 2.233c.346.244.652.42.893.533q.18.085.293.118a1 1 0 0 0 .101.025 1 1 0 0 0 .1-.025q.114-.034.294-.118c.24-.113.547-.29.893-.533a10.7 10.7 0 0 0 2.287-2.233c1.527-1.997 2.807-5.031 2.253-9.188a.48.48 0 0 0-.328-.39c-.651-.213-1.75-.56-2.837-.855C9.552 1.29 8.531 1.067 8 1.067c-.53 0-1.552.223-2.662.524zM5.072.56C6.157.265 7.31 0 8 0s1.843.265 2.928.56c1.11.3 2.229.655 2.887.87a1.54 1.54 0 0 1 1.044 1.262c.596 4.477-.787 7.795-2.465 9.99a11.8 11.8 0 0 1-2.517 2.453 7 7 0 0 1-1.048.625c-.28.132-.581.24-.829.24s-.548-.108-.829-.24a7 7 0 0 1-1.048-.625 11.8 11.8 0 0 1-2.517-2.453C1.928 10.487.545 7.169 1.141 2.692A1.54 1.54 0 0 1 2.185 1.43 63 63 0 0 1 5.072.56" fill="#6c757d" stroke="#6c757d" stroke-width="0.04"/></svg>
<div class="a" style="left:65.70px;top:1096.70px;width:84.20px;height:22.60px;background:#eef0f2;border-radius:11.3px"></div>
<div class="t" style="left:76.40px;top:1100.00px;font-size:15.6px;line-height:15.6px;color:#6c757d;font-weight:normal;">Estimado</div>
<div class="t" style="left:199.40px;top:1103.00px;font-size:15.6px;line-height:15.6px;color:#2c3034;font-weight:normal;">CTO-SPO</div>
<div class="t" style="left:199.40px;top:1103.00px;font-size:15.6px;line-height:15.6px;color:#2c3034;font-weight:normal;"><span style="visibility:hidden">CTO-SPO</span><span style="color:#bbb">-</span></div>
<div class="t" style="left:583.90px;top:1103.00px;font-size:15.6px;line-height:15.6px;color:#8c8c8c;font-weight:normal;">|</div>
<div class="t" style="left:593.10px;top:1103.00px;font-size:15.6px;line-height:15.6px;color:#2c3034;font-weight:normal;">Porta 5</div>
<div class="a" style="left:855.00px;top:1100.00px;width:160.50px;height:22.30px;background:#6ab650;border-radius:6.4px"></div>
<div class="t" style="left:855.00px;top:1103.00px;font-size:16.8px;line-height:16.8px;color:#fff;font-weight:normal;width:160.5px;text-align:center">-15.9 dBm</div>
<div class="a" style="left:1035.30px;top:1098.20px;width:160.20px;height:25.50px;background:#fff;box-shadow:inset 0 0 0 1.7px #3a3a3a;border-radius:5px"></div>
<div class="t" style="left:1035.30px;top:1103.00px;font-size:16.8px;line-height:16.8px;color:#333;font-weight:normal;width:160.2px;text-align:center">-18.37 dBm</div>
<div class="t" style="left:1337.90px;top:1103.00px;font-size:15.6px;line-height:15.6px;color:#2c3034;font-weight:normal;">7</div>
<div class="t" style="left:1423.50px;top:1103.00px;font-size:15.6px;line-height:15.6px;color:#2c3034;font-weight:normal;">ZTEGCCB3283E</div>
<div class="t" style="left:1568.70px;top:1103.00px;font-size:15.6px;line-height:15.6px;color:#2a9fc9;font-weight:normal;">96991</div>
<div class="t" style="left:1811.30px;top:1103.00px;font-size:15.6px;line-height:15.6px;color:#2c3034;font-weight:normal;">power_fail</div>
<div class="t" style="left:1984.10px;top:1103.00px;font-size:15.6px;line-height:15.6px;color:#2c3034;font-weight:normal;">15/07/2025 06:39</div>
<svg style="left:22.0px;top:1146.12px" width="23.84" height="23.84" viewBox="0 0 16 16"><path d="M5.338 1.59a61 61 0 0 0-2.837.856.48.48 0 0 0-.328.39c-.554 4.157.726 7.19 2.253 9.188a10.7 10.7 0 0 0 2.287 2.233c.346.244.652.42.893.533q.18.085.293.118a1 1 0 0 0 .101.025 1 1 0 0 0 .1-.025q.114-.034.294-.118c.24-.113.547-.29.893-.533a10.7 10.7 0 0 0 2.287-2.233c1.527-1.997 2.807-5.031 2.253-9.188a.48.48 0 0 0-.328-.39c-.651-.213-1.75-.56-2.837-.855C9.552 1.29 8.531 1.067 8 1.067c-.53 0-1.552.223-2.662.524zM5.072.56C6.157.265 7.31 0 8 0s1.843.265 2.928.56c1.11.3 2.229.655 2.887.87a1.54 1.54 0 0 1 1.044 1.262c.596 4.477-.787 7.795-2.465 9.99a11.8 11.8 0 0 1-2.517 2.453 7 7 0 0 1-1.048.625c-.28.132-.581.24-.829.24s-.548-.108-.829-.24a7 7 0 0 1-1.048-.625 11.8 11.8 0 0 1-2.517-2.453C1.928 10.487.545 7.169 1.141 2.692A1.54 1.54 0 0 1 2.185 1.43 63 63 0 0 1 5.072.56" fill="#6c757d" stroke="#6c757d" stroke-width="0.04"/></svg>
<div class="a" style="left:65.70px;top:1139.62px;width:84.20px;height:22.60px;background:#eef0f2;border-radius:11.3px"></div>
<div class="t" style="left:76.40px;top:1143.00px;font-size:15.6px;line-height:15.6px;color:#6c757d;font-weight:normal;">Estimado</div>
<div class="t" style="left:199.40px;top:1146.00px;font-size:15.6px;line-height:15.6px;color:#2c3034;font-weight:normal;">CTO-SPO</div>
<div class="t" style="left:199.40px;top:1146.00px;font-size:15.6px;line-height:15.6px;color:#2c3034;font-weight:normal;"><span style="visibility:hidden">CTO-SPO</span><span style="color:#bbb">-</span></div>
<div class="t" style="left:583.90px;top:1146.00px;font-size:15.6px;line-height:15.6px;color:#8c8c8c;font-weight:normal;">|</div>
<div class="t" style="left:593.10px;top:1146.00px;font-size:15.6px;line-height:15.6px;color:#2c3034;font-weight:normal;">Porta 6</div>
<div class="a" style="left:855.00px;top:1142.92px;width:160.50px;height:22.30px;background:#d47f7f;border-radius:6.4px"></div>
<div class="t" style="left:855.00px;top:1146.00px;font-size:16.8px;line-height:16.8px;color:#fff;font-weight:normal;width:160.5px;text-align:center">Down</div>
<div class="a" style="left:1035.30px;top:1141.12px;width:160.20px;height:25.50px;background:#fff;box-shadow:inset 0 0 0 1.7px #3a3a3a;border-radius:5px"></div>
<div class="t" style="left:1035.30px;top:1146.00px;font-size:16.8px;line-height:16.8px;color:#333;font-weight:normal;width:160.2px;text-align:center">N/A</div>
<div class="t" style="left:1337.90px;top:1146.00px;font-size:15.6px;line-height:15.6px;color:#2c3034;font-weight:normal;">3</div>
<div class="t" style="left:1423.50px;top:1146.00px;font-size:15.6px;line-height:15.6px;color:#2c3034;font-weight:normal;">ZTEGC4BA87D6</div>
<div class="t" style="left:1568.70px;top:1146.00px;font-size:15.6px;line-height:15.6px;color:#2a9fc9;font-weight:normal;">96990</div>
<svg style="left:22.0px;top:1189.04px" width="23.84" height="23.84" viewBox="0 0 16 16"><path d="M5.338 1.59a61 61 0 0 0-2.837.856.48.48 0 0 0-.328.39c-.554 4.157.726 7.19 2.253 9.188a10.7 10.7 0 0 0 2.287 2.233c.346.244.652.42.893.533q.18.085.293.118a1 1 0 0 0 .101.025 1 1 0 0 0 .1-.025q.114-.034.294-.118c.24-.113.547-.29.893-.533a10.7 10.7 0 0 0 2.287-2.233c1.527-1.997 2.807-5.031 2.253-9.188a.48.48 0 0 0-.328-.39c-.651-.213-1.75-.56-2.837-.855C9.552 1.29 8.531 1.067 8 1.067c-.53 0-1.552.223-2.662.524zM5.072.56C6.157.265 7.31 0 8 0s1.843.265 2.928.56c1.11.3 2.229.655 2.887.87a1.54 1.54 0 0 1 1.044 1.262c.596 4.477-.787 7.795-2.465 9.99a11.8 11.8 0 0 1-2.517 2.453 7 7 0 0 1-1.048.625c-.28.132-.581.24-.829.24s-.548-.108-.829-.24a7 7 0 0 1-1.048-.625 11.8 11.8 0 0 1-2.517-2.453C1.928 10.487.545 7.169 1.141 2.692A1.54 1.54 0 0 1 2.185 1.43 63 63 0 0 1 5.072.56" fill="#6c757d" stroke="#6c757d" stroke-width="0.04"/></svg>
<div class="a" style="left:65.70px;top:1182.54px;width:84.20px;height:22.60px;background:#eef0f2;border-radius:11.3px"></div>
<div class="t" style="left:76.40px;top:1186.00px;font-size:15.6px;line-height:15.6px;color:#6c757d;font-weight:normal;">Estimado</div>
<div class="t" style="left:199.40px;top:1189.00px;font-size:15.6px;line-height:15.6px;color:#2c3034;font-weight:normal;">CTO-SPO</div>
<div class="t" style="left:199.40px;top:1189.00px;font-size:15.6px;line-height:15.6px;color:#2c3034;font-weight:normal;"><span style="visibility:hidden">CTO-SPO</span><span style="color:#bbb">-</span></div>
<div class="t" style="left:583.90px;top:1189.00px;font-size:15.6px;line-height:15.6px;color:#8c8c8c;font-weight:normal;">|</div>
<div class="t" style="left:593.10px;top:1189.00px;font-size:15.6px;line-height:15.6px;color:#2c3034;font-weight:normal;">Porta 7</div>
<div class="a" style="left:855.00px;top:1185.84px;width:160.50px;height:22.30px;background:#d47f7f;border-radius:6.4px"></div>
<div class="t" style="left:855.00px;top:1189.00px;font-size:16.8px;line-height:16.8px;color:#fff;font-weight:normal;width:160.5px;text-align:center">Down</div>
<div class="a" style="left:1035.30px;top:1184.04px;width:160.20px;height:25.50px;background:#fff;box-shadow:inset 0 0 0 1.7px #3a3a3a;border-radius:5px"></div>
<div class="t" style="left:1035.30px;top:1189.00px;font-size:16.8px;line-height:16.8px;color:#333;font-weight:normal;width:160.2px;text-align:center">N/A</div>
<div class="t" style="left:1337.90px;top:1189.00px;font-size:15.6px;line-height:15.6px;color:#2c3034;font-weight:normal;">14</div>
<div class="t" style="left:1423.50px;top:1189.00px;font-size:15.6px;line-height:15.6px;color:#2c3034;font-weight:normal;">ZTEGCCECB6FE</div>
<div class="t" style="left:1568.70px;top:1189.00px;font-size:15.6px;line-height:15.6px;color:#2a9fc9;font-weight:normal;">96994</div>
<svg style="left:22.0px;top:1231.96px" width="23.84" height="23.84" viewBox="0 0 16 16"><path d="M5.338 1.59a61 61 0 0 0-2.837.856.48.48 0 0 0-.328.39c-.554 4.157.726 7.19 2.253 9.188a10.7 10.7 0 0 0 2.287 2.233c.346.244.652.42.893.533q.18.085.293.118a1 1 0 0 0 .101.025 1 1 0 0 0 .1-.025q.114-.034.294-.118c.24-.113.547-.29.893-.533a10.7 10.7 0 0 0 2.287-2.233c1.527-1.997 2.807-5.031 2.253-9.188a.48.48 0 0 0-.328-.39c-.651-.213-1.75-.56-2.837-.855C9.552 1.29 8.531 1.067 8 1.067c-.53 0-1.552.223-2.662.524zM5.072.56C6.157.265 7.31 0 8 0s1.843.265 2.928.56c1.11.3 2.229.655 2.887.87a1.54 1.54 0 0 1 1.044 1.262c.596 4.477-.787 7.795-2.465 9.99a11.8 11.8 0 0 1-2.517 2.453 7 7 0 0 1-1.048.625c-.28.132-.581.24-.829.24s-.548-.108-.829-.24a7 7 0 0 1-1.048-.625 11.8 11.8 0 0 1-2.517-2.453C1.928 10.487.545 7.169 1.141 2.692A1.54 1.54 0 0 1 2.185 1.43 63 63 0 0 1 5.072.56" fill="#2e9e5e" stroke="#2e9e5e" stroke-width="0.04"/><path d="M10.854 5.146a.5.5 0 0 1 0 .708l-3 3a.5.5 0 0 1-.708 0l-1.5-1.5a.5.5 0 1 1 .708-.708L7.5 7.793l2.646-2.647a.5.5 0 0 1 .708 0" fill="#2e9e5e" stroke="#2e9e5e" stroke-width="0.1"/></svg>
<div class="a" style="left:66.20px;top:1224.36px;width:71.50px;height:23.40px;background:#eef0f2;border-radius:11.7px"></div>
<div class="t" style="left:76.40px;top:1228.00px;font-size:15.6px;line-height:15.6px;color:#2b2f33;font-weight:normal;">Em uso</div>
<div class="t" style="left:199.40px;top:1232.00px;font-size:15.6px;line-height:15.6px;color:#2c3034;font-weight:normal;">CTO-SPO</div>
<div class="t" style="left:199.40px;top:1232.00px;font-size:15.6px;line-height:15.6px;color:#2c3034;font-weight:normal;"><span style="visibility:hidden">CTO-SPO</span><span style="color:#bbb">-</span></div>
<div class="t" style="left:583.90px;top:1232.00px;font-size:15.6px;line-height:15.6px;color:#8c8c8c;font-weight:normal;">|</div>
<div class="t" style="left:593.10px;top:1232.00px;font-size:15.6px;line-height:15.6px;color:#2c3034;font-weight:normal;">Porta 8</div>
<div class="t" style="left:662.30px;top:1232.00px;font-size:15.6px;line-height:15.6px;color:#2c3034;font-weight:normal;">CTO-SPO-2365_CTO...</div>
<div class="a" style="left:855.00px;top:1228.76px;width:160.50px;height:22.30px;background:#6ab650;border-radius:6.4px"></div>
<div class="t" style="left:855.00px;top:1232.00px;font-size:16.8px;line-height:16.8px;color:#fff;font-weight:normal;width:160.5px;text-align:center">-19.83 dBm</div>
<div class="a" style="left:1035.30px;top:1226.96px;width:160.20px;height:25.50px;background:#fff;box-shadow:inset 0 0 0 1.7px #3a3a3a;border-radius:5px"></div>
<div class="t" style="left:1035.30px;top:1232.00px;font-size:16.8px;line-height:16.8px;color:#333;font-weight:normal;width:160.2px;text-align:center">-24.55 dBm</div>
<div class="t" style="left:1214.40px;top:1232.00px;font-size:15.6px;line-height:15.6px;color:#2c3034;font-weight:normal;">3 km, 66 m</div>
<div class="t" style="left:1337.90px;top:1232.00px;font-size:15.6px;line-height:15.6px;color:#2c3034;font-weight:normal;">126</div>
<div class="t" style="left:1423.50px;top:1232.00px;font-size:15.6px;line-height:15.6px;color:#2c3034;font-weight:normal;">HWTCBCE97EB2</div>
<div class="t" style="left:1568.70px;top:1232.00px;font-size:15.6px;line-height:15.6px;color:#2a9fc9;font-weight:normal;">1522033</div>
<div class="t" style="left:1668.30px;top:1232.00px;font-size:15.6px;line-height:15.6px;color:#2c3034;font-weight:normal;">TAG7VC20HT9B</div>
<svg style="left:22.0px;top:1274.88px" width="23.84" height="23.84" viewBox="0 0 16 16"><path d="M5.338 1.59a61 61 0 0 0-2.837.856.48.48 0 0 0-.328.39c-.554 4.157.726 7.19 2.253 9.188a10.7 10.7 0 0 0 2.287 2.233c.346.244.652.42.893.533q.18.085.293.118a1 1 0 0 0 .101.025 1 1 0 0 0 .1-.025q.114-.034.294-.118c.24-.113.547-.29.893-.533a10.7 10.7 0 0 0 2.287-2.233c1.527-1.997 2.807-5.031 2.253-9.188a.48.48 0 0 0-.328-.39c-.651-.213-1.75-.56-2.837-.855C9.552 1.29 8.531 1.067 8 1.067c-.53 0-1.552.223-2.662.524zM5.072.56C6.157.265 7.31 0 8 0s1.843.265 2.928.56c1.11.3 2.229.655 2.887.87a1.54 1.54 0 0 1 1.044 1.262c.596 4.477-.787 7.795-2.465 9.99a11.8 11.8 0 0 1-2.517 2.453 7 7 0 0 1-1.048.625c-.28.132-.581.24-.829.24s-.548-.108-.829-.24a7 7 0 0 1-1.048-.625 11.8 11.8 0 0 1-2.517-2.453C1.928 10.487.545 7.169 1.141 2.692A1.54 1.54 0 0 1 2.185 1.43 63 63 0 0 1 5.072.56" fill="#6c757d" stroke="#6c757d" stroke-width="0.04"/></svg>
<div class="a" style="left:65.70px;top:1268.38px;width:84.20px;height:22.60px;background:#eef0f2;border-radius:11.3px"></div>
<div class="t" style="left:76.40px;top:1272.00px;font-size:15.6px;line-height:15.6px;color:#6c757d;font-weight:normal;">Estimado</div>
<div class="t" style="left:199.40px;top:1275.00px;font-size:15.6px;line-height:15.6px;color:#2c3034;font-weight:normal;">CTO-SPO</div>
<div class="t" style="left:199.40px;top:1275.00px;font-size:15.6px;line-height:15.6px;color:#2c3034;font-weight:normal;"><span style="visibility:hidden">CTO-SPO</span><span style="color:#bbb">-</span></div>
<div class="t" style="left:583.90px;top:1275.00px;font-size:15.6px;line-height:15.6px;color:#8c8c8c;font-weight:normal;">|</div>
<div class="t" style="left:593.10px;top:1275.00px;font-size:15.6px;line-height:15.6px;color:#2c3034;font-weight:normal;">Porta 9</div>
<div class="a" style="left:855.00px;top:1271.68px;width:160.50px;height:22.30px;background:#d47f7f;border-radius:6.4px"></div>
<div class="t" style="left:855.00px;top:1275.00px;font-size:16.8px;line-height:16.8px;color:#fff;font-weight:normal;width:160.5px;text-align:center">Down</div>
<div class="a" style="left:1035.30px;top:1269.88px;width:160.20px;height:25.50px;background:#fff;box-shadow:inset 0 0 0 1.7px #3a3a3a;border-radius:5px"></div>
<div class="t" style="left:1035.30px;top:1275.00px;font-size:16.8px;line-height:16.8px;color:#333;font-weight:normal;width:160.2px;text-align:center">N/A</div>
<div class="a" style="left:661.50px;top:757.90px;width:9.25px;height:9.50px;background:rgb(210,211,213)"></div>
<div class="a" style="left:661.50px;top:767.40px;width:9.25px;height:9.50px;background:rgb(226,227,229)"></div>
<div class="a" style="left:670.45px;top:757.90px;width:9.25px;height:9.50px;background:rgb(204,205,207)"></div>
<div class="a" style="left:670.45px;top:767.40px;width:9.25px;height:9.50px;background:rgb(196,197,199)"></div>
<div class="a" style="left:679.40px;top:757.90px;width:9.25px;height:9.50px;background:rgb(206,207,209)"></div>
<div class="a" style="left:679.40px;top:767.40px;width:9.25px;height:9.50px;background:rgb(210,211,213)"></div>
<div class="a" style="left:688.35px;top:757.90px;width:9.25px;height:9.50px;background:rgb(202,203,205)"></div>
<div class="a" style="left:688.35px;top:767.40px;width:9.25px;height:9.50px;background:rgb(214,215,217)"></div>
<div class="a" style="left:697.30px;top:757.90px;width:9.25px;height:9.50px;background:rgb(204,205,207)"></div>
<div class="a" style="left:697.30px;top:767.40px;width:9.25px;height:9.50px;background:rgb(200,201,203)"></div>
<div class="a" style="left:706.25px;top:757.90px;width:9.25px;height:9.50px;background:rgb(190,191,193)"></div>
<div class="a" style="left:706.25px;top:767.40px;width:9.25px;height:9.50px;background:rgb(218,219,221)"></div>
<div class="a" style="left:715.20px;top:757.90px;width:9.25px;height:9.50px;background:rgb(206,207,209)"></div>
<div class="a" style="left:715.20px;top:767.40px;width:9.25px;height:9.50px;background:rgb(206,207,209)"></div>
<div class="a" style="left:724.15px;top:757.90px;width:9.25px;height:9.50px;background:rgb(206,207,209)"></div>
<div class="a" style="left:724.15px;top:767.40px;width:9.25px;height:9.50px;background:rgb(206,207,209)"></div>
<div class="a" style="left:733.10px;top:757.90px;width:9.25px;height:9.50px;background:rgb(214,215,217)"></div>
<div class="a" style="left:733.10px;top:767.40px;width:9.25px;height:9.50px;background:rgb(210,211,213)"></div>
<div class="a" style="left:742.05px;top:757.90px;width:9.25px;height:9.50px;background:rgb(206,207,209)"></div>
<div class="a" style="left:742.05px;top:767.40px;width:9.25px;height:9.50px;background:rgb(200,201,203)"></div>
<div class="a" style="left:751.00px;top:757.90px;width:9.25px;height:9.50px;background:rgb(208,209,211)"></div>
<div class="a" style="left:751.00px;top:767.40px;width:9.25px;height:9.50px;background:rgb(212,213,215)"></div>
<div class="a" style="left:759.95px;top:757.90px;width:9.25px;height:9.50px;background:rgb(200,201,203)"></div>
<div class="a" style="left:759.95px;top:767.40px;width:9.25px;height:9.50px;background:rgb(208,209,211)"></div>
<div class="a" style="left:768.90px;top:757.90px;width:9.25px;height:9.50px;background:rgb(210,211,213)"></div>
<div class="a" style="left:768.90px;top:767.40px;width:9.25px;height:9.50px;background:rgb(208,209,211)"></div>
<div class="a" style="left:777.85px;top:757.90px;width:9.25px;height:9.50px;background:rgb(214,215,217)"></div>
<div class="a" style="left:777.85px;top:767.40px;width:9.25px;height:9.50px;background:rgb(210,211,213)"></div>
<div class="a" style="left:658.60px;top:843.60px;width:9.25px;height:9.70px;background:rgb(208,209,211)"></div>
<div class="a" style="left:658.60px;top:853.30px;width:9.25px;height:9.70px;background:rgb(236,237,239)"></div>
<div class="a" style="left:667.55px;top:843.60px;width:9.25px;height:9.70px;background:rgb(202,203,205)"></div>
<div class="a" style="left:667.55px;top:853.30px;width:9.25px;height:9.70px;background:rgb(232,233,235)"></div>
<div class="a" style="left:676.50px;top:843.60px;width:9.25px;height:9.70px;background:rgb(206,207,209)"></div>
<div class="a" style="left:676.50px;top:853.30px;width:9.25px;height:9.70px;background:rgb(230,231,233)"></div>
<div class="a" style="left:685.45px;top:843.60px;width:9.25px;height:9.70px;background:rgb(196,197,199)"></div>
<div class="a" style="left:685.45px;top:853.30px;width:9.25px;height:9.70px;background:rgb(238,239,241)"></div>
<div class="a" style="left:694.40px;top:843.60px;width:9.25px;height:9.70px;background:rgb(210,211,213)"></div>
<div class="a" style="left:694.40px;top:853.30px;width:9.25px;height:9.70px;background:rgb(232,233,235)"></div>
<div class="a" style="left:703.35px;top:843.60px;width:9.25px;height:9.70px;background:rgb(202,203,205)"></div>
<div class="a" style="left:703.35px;top:853.30px;width:9.25px;height:9.70px;background:rgb(232,233,235)"></div>
<div class="a" style="left:712.30px;top:843.60px;width:9.25px;height:9.70px;background:rgb(208,209,211)"></div>
<div class="a" style="left:712.30px;top:853.30px;width:9.25px;height:9.70px;background:rgb(236,237,239)"></div>
<div class="a" style="left:721.25px;top:843.60px;width:9.25px;height:9.70px;background:rgb(210,211,213)"></div>
<div class="a" style="left:721.25px;top:853.30px;width:9.25px;height:9.70px;background:rgb(230,231,233)"></div>
<div class="a" style="left:730.20px;top:843.60px;width:9.25px;height:9.70px;background:rgb(250,251,253)"></div>
<div class="a" style="left:730.20px;top:853.30px;width:9.25px;height:9.70px;background:rgb(250,251,253)"></div>
<div class="a" style="left:2313.00px;top:568.60px;width:22.70px;height:705.40px;background:#fafafa"></div>
<svg style="left:2317px;top:577px" width="15" height="9" viewBox="0 0 15 9"><path d="M0.3 8 L7.2 0.7 L14 8 Z" fill="#888"/></svg>
<div class="a" style="left:2317.70px;top:595.70px;width:13.30px;height:642.00px;background:#8a8a8a;border-radius:7px"></div>
</div>
<div class="a" style="left:-3.00px;top:462.20px;width:2352.00px;height:38.80px;background:#cfe2ff;border:1.2px solid #a8cbfe;border-radius:9px"></div>
<div class="t" style="left:9.30px;top:473.00px;font-size:15.6px;line-height:15.6px;color:#1a479a;font-weight:normal;">Esta tabela apresenta uma visão geral do Ponlink, indicando todas as portas de CTO/Splitter e ONUs relacionadas ao Ponlink.</div>
<div class="t" style="left:41.00px;top:585.00px;font-size:17.28px;line-height:17.28px;color:#212529;font-weight:bold;">CTO Status</div>
<div class="t" style="left:370.20px;top:585.00px;font-size:17.28px;line-height:17.28px;color:#212529;font-weight:bold;">CTO Info</div>
<div class="t" style="left:662.00px;top:585.00px;font-size:17.28px;line-height:17.28px;color:#212529;font-weight:bold;">Descrição na OLT</div>
<div class="t" style="left:887.30px;top:585.00px;font-size:17.28px;line-height:17.28px;color:#212529;font-weight:bold;">ONU RX</div>
<div class="t" style="left:1069.70px;top:585.00px;font-size:17.28px;line-height:17.28px;color:#212529;font-weight:bold;">OLT RX</div>
<div class="t" style="left:1214.10px;top:585.00px;font-size:17.28px;line-height:17.28px;color:#212529;font-weight:bold;">Distância</div>
<div class="t" style="left:1337.70px;top:585.00px;font-size:17.28px;line-height:17.28px;color:#212529;font-weight:bold;">ONU</div>
<div class="t" style="left:1439.00px;top:585.00px;font-size:17.28px;line-height:17.28px;color:#212529;font-weight:bold;">ONU SN</div>
<div class="t" style="left:1568.50px;top:585.00px;font-size:17.28px;line-height:17.28px;color:#212529;font-weight:bold;">ID Int6</div>
<div class="t" style="left:1674.70px;top:585.00px;font-size:17.28px;line-height:17.28px;color:#212529;font-weight:bold;">ID do ERP</div>
<div class="t" style="left:1810.10px;top:585.00px;font-size:17.28px;line-height:17.28px;color:#212529;font-weight:bold;">Última Massiva</div>
<div class="t" style="left:1983.70px;top:585.00px;font-size:17.28px;line-height:17.28px;color:#212529;font-weight:bold;">Início Massiva</div>
<div class="t" style="left:2147.70px;top:585.00px;font-size:17.28px;line-height:17.28px;color:#212529;font-weight:bold;">Assinante</div>
</body></html>
